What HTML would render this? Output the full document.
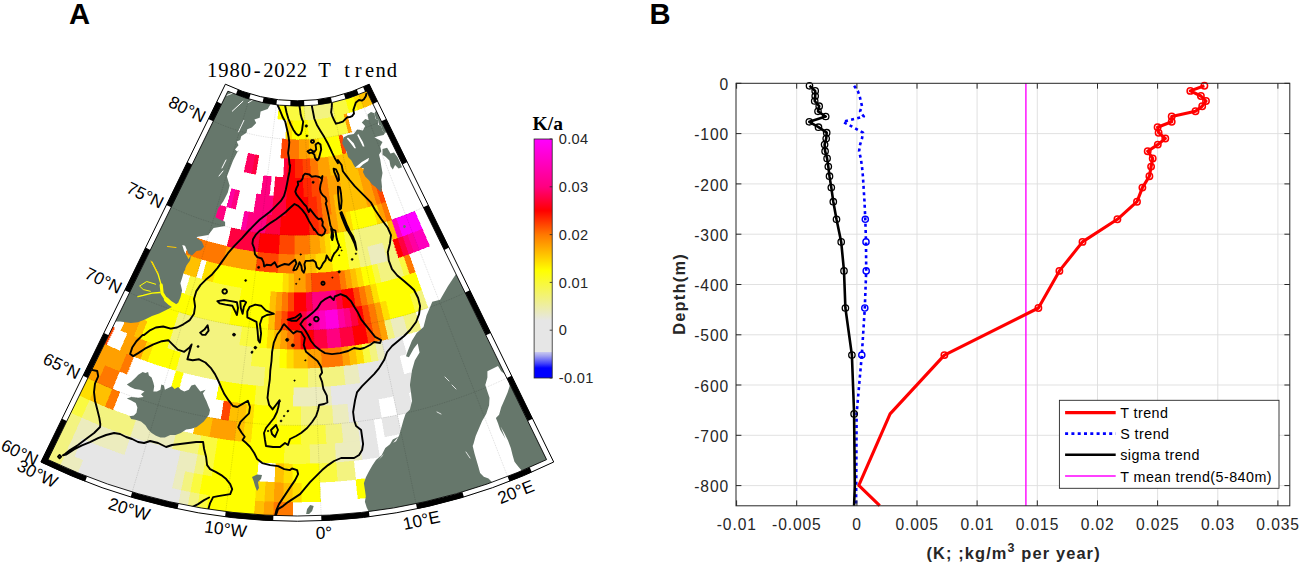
<!DOCTYPE html>
<html><head><meta charset="utf-8"><title>Figure</title>
<style>html,body{margin:0;padding:0;background:#fff}svg{display:block}text{font-family:"Liberation Sans",sans-serif}</style></head><body>
<svg width="1299" height="565" viewBox="0 0 1299 565">
<rect width="1299" height="565" fill="#fff"/>
<defs><clipPath id="mapclip"><path d="M225.4,84.2 A163.9,163.9 0 0 0 369.2,84.2 L553.7,462 A584.4,584.4 0 0 1 40.9,462 Z"/></clipPath></defs>
<g clip-path="url(#mapclip)">
<g shape-rendering="crispEdges"><polygon points="49.3,444.7 57.7,448.7 66.2,452.6 58.3,470.2 49.6,466.2 40.9,462" fill="#f3f380" stroke="#f3f380" stroke-width="0.4"/>
<polygon points="66.2,452.6 74.8,456.4 83.4,460 76.1,477.8 67.2,474.1 58.3,470.2" fill="#ececbe" stroke="#ececbe" stroke-width="0.4"/>
<polygon points="83.4,460 92.1,463.4 100.8,466.7 109.6,469.9 118.4,473 127.3,475.8 136.2,478.6 145.2,481.2 154.2,483.6 163.2,485.9 172.3,488 181.4,490 177.5,508.9 168,506.8 158.7,504.6 149.3,502.2 140,499.7 130.7,497 121.5,494.2 112.3,491.2 103.2,488.1 94.1,484.8 85.1,481.4 76.1,477.8" fill="#e6e6e6" stroke="#e6e6e6" stroke-width="0.4"/>
<polygon points="181.4,490 190.6,491.9 186.9,510.8 177.5,508.9" fill="#ececbe" stroke="#ececbe" stroke-width="0.4"/>
<polygon points="190.6,491.9 199.8,493.5 196.4,512.5 186.9,510.8" fill="#f3f380" stroke="#f3f380" stroke-width="0.4"/>
<polygon points="199.8,493.5 209,495.1 206,514.1 196.4,512.5" fill="#fafa40" stroke="#fafa40" stroke-width="0.4"/>
<polygon points="209,495.1 218.2,496.5 227.5,497.7 236.7,498.8 246,499.7 255.3,500.5 253.9,519.7 244.3,518.9 234.7,517.9 225.1,516.8 215.5,515.5 206,514.1" fill="#ffff00" stroke="#ffff00" stroke-width="0.4"/>
<polygon points="255.3,500.5 264.6,501.1 263.5,520.3 253.9,519.7" fill="#ffc000" stroke="#ffc000" stroke-width="0.4"/>
<polygon points="264.6,501.1 274,501.5 273.2,520.8 263.5,520.3" fill="#ffa000" stroke="#ffa000" stroke-width="0.4"/>
<polygon points="274,501.5 283.3,501.8 292.6,502 292.5,521.3 282.8,521.1 273.2,520.8" fill="#ff7800" stroke="#ff7800" stroke-width="0.4"/>
<polygon points="57.8,427.4 65.9,431.3 74.1,435.1 66.2,452.6 57.7,448.7 49.3,444.7" fill="#f3f380" stroke="#f3f380" stroke-width="0.4"/>
<polygon points="74.1,435.1 82.3,438.7 74.8,456.4 66.2,452.6" fill="#ececbe" stroke="#ececbe" stroke-width="0.4"/>
<polygon points="82.3,438.7 90.7,442.2 99,445.5 107.5,448.7 115.9,451.8 124.5,454.7 133.1,457.5 141.7,460.1 150.3,462.6 159,465 167.8,467.2 176.6,469.3 172.3,488 163.2,485.9 154.2,483.6 145.2,481.2 136.2,478.6 127.3,475.8 118.4,473 109.6,469.9 100.8,466.7 92.1,463.4 83.4,460 74.8,456.4" fill="#e6e6e6" stroke="#e6e6e6" stroke-width="0.4"/>
<polygon points="176.6,469.3 185.4,471.2 181.4,490 172.3,488" fill="#ececbe" stroke="#ececbe" stroke-width="0.4"/>
<polygon points="185.4,471.2 194.2,473 190.6,491.9 181.4,490" fill="#f3f380" stroke="#f3f380" stroke-width="0.4"/>
<polygon points="194.2,473 203.1,474.6 199.8,493.5 190.6,491.9" fill="#fafa40" stroke="#fafa40" stroke-width="0.4"/>
<polygon points="203.1,474.6 212,476.1 220.9,477.4 229.8,478.6 238.8,479.6 247.8,480.5 256.8,481.3 255.3,500.5 246,499.7 236.7,498.8 227.5,497.7 218.2,496.5 209,495.1 199.8,493.5" fill="#ffff00" stroke="#ffff00" stroke-width="0.4"/>
<polygon points="256.8,481.3 265.8,481.9 264.6,501.1 255.3,500.5" fill="#ffde00" stroke="#ffde00" stroke-width="0.4"/>
<polygon points="265.8,481.9 274.8,482.3 274,501.5 264.6,501.1" fill="#ffc000" stroke="#ffc000" stroke-width="0.4"/>
<polygon points="274.8,482.3 283.8,482.6 283.3,501.8 274,501.5" fill="#ffa000" stroke="#ffa000" stroke-width="0.4"/>
<polygon points="283.8,482.6 292.8,482.8 292.6,502 283.3,501.8" fill="#ffc000" stroke="#ffc000" stroke-width="0.4"/>
<polygon points="292.8,482.8 301.8,482.8 302,502 292.6,502" fill="#ffde00" stroke="#ffde00" stroke-width="0.4"/>
<polygon points="301.8,482.8 310.8,482.6 319.8,482.3 320.6,501.5 311.3,501.8 302,502" fill="#ffff00" stroke="#ffff00" stroke-width="0.4"/>
<polygon points="355.8,479.6 364.8,478.6 367.1,497.7 357.9,498.8" fill="#ffff00" stroke="#ffff00" stroke-width="0.4"/>
<polygon points="66.2,410.2 74,413.9 81.9,417.6 74.1,435.1 65.9,431.3 57.8,427.4" fill="#f3f380" stroke="#f3f380" stroke-width="0.4"/>
<polygon points="81.9,417.6 89.9,421 97.9,424.4 106,427.6 114.1,430.7 122.3,433.7 130.6,436.5 124.5,454.7 115.9,451.8 107.5,448.7 99,445.5 90.7,442.2 82.3,438.7 74.1,435.1" fill="#ececbe" stroke="#ececbe" stroke-width="0.4"/>
<polygon points="130.6,436.5 138.8,439.2 147.1,441.7 155.5,444.2 163.9,446.4 172.3,448.6 180.8,450.6 176.6,469.3 167.8,467.2 159,465 150.3,462.6 141.7,460.1 133.1,457.5 124.5,454.7" fill="#e6e6e6" stroke="#e6e6e6" stroke-width="0.4"/>
<polygon points="180.8,450.6 189.3,452.4 197.8,454.1 194.2,473 185.4,471.2 176.6,469.3" fill="#ececbe" stroke="#ececbe" stroke-width="0.4"/>
<polygon points="197.8,454.1 206.4,455.7 203.1,474.6 194.2,473" fill="#f3f380" stroke="#f3f380" stroke-width="0.4"/>
<polygon points="206.4,455.7 215,457.1 212,476.1 203.1,474.6" fill="#fafa40" stroke="#fafa40" stroke-width="0.4"/>
<polygon points="215,457.1 223.6,458.4 232.2,459.6 240.9,460.6 249.5,461.4 258.2,462.1 256.8,481.3 247.8,480.5 238.8,479.6 229.8,478.6 220.9,477.4 212,476.1" fill="#ffff00" stroke="#ffff00" stroke-width="0.4"/>
<polygon points="275.6,463.2 284.3,463.4 283.8,482.6 274.8,482.3" fill="#ffc000" stroke="#ffc000" stroke-width="0.4"/>
<polygon points="284.3,463.4 292.9,463.6 292.8,482.8 283.8,482.6" fill="#ffde00" stroke="#ffde00" stroke-width="0.4"/>
<polygon points="292.9,463.6 301.7,463.6 310.3,463.4 319,463.2 319.8,482.3 310.8,482.6 301.8,482.8 292.8,482.8" fill="#ffff00" stroke="#ffff00" stroke-width="0.4"/>
<polygon points="319,463.2 327.7,462.7 336.4,462.1 337.8,481.3 328.8,481.9 319.8,482.3" fill="#fafa40" stroke="#fafa40" stroke-width="0.4"/>
<polygon points="336.4,462.1 345.1,461.4 353.7,460.6 355.8,479.6 346.8,480.5 337.8,481.3" fill="#f3f380" stroke="#f3f380" stroke-width="0.4"/>
<polygon points="74.6,393 82.1,396.6 89.8,400.1 81.9,417.6 74,413.9 66.2,410.2" fill="#fafa40" stroke="#fafa40" stroke-width="0.4"/>
<polygon points="89.8,400.1 97.4,403.4 105.2,406.7 113,409.8 120.8,412.8 128.7,415.6 136.6,418.3 130.6,436.5 122.3,433.7 114.1,430.7 106,427.6 97.9,424.4 89.9,421 81.9,417.6" fill="#f3f380" stroke="#f3f380" stroke-width="0.4"/>
<polygon points="136.6,418.3 144.6,420.9 152.6,423.4 160.7,425.7 168.8,427.9 176.9,430 172.3,448.6 163.9,446.4 155.5,444.2 147.1,441.7 138.8,439.2 130.6,436.5" fill="#ececbe" stroke="#ececbe" stroke-width="0.4"/>
<polygon points="176.9,430 185,431.9 193.2,433.7 201.5,435.3 197.8,454.1 189.3,452.4 180.8,450.6 172.3,448.6" fill="#f3f380" stroke="#f3f380" stroke-width="0.4"/>
<polygon points="201.5,435.3 209.7,436.8 218,438.2 215,457.1 206.4,455.7 197.8,454.1" fill="#fafa40" stroke="#fafa40" stroke-width="0.4"/>
<polygon points="218,438.2 226.3,439.5 234.6,440.6 242.9,441.5 251.2,442.4 259.6,443.1 268,443.6 276.3,444 284.7,444.3 284.3,463.4 275.6,463.2 266.9,462.7 258.2,462.1 249.5,461.4 240.9,460.6 232.2,459.6 223.6,458.4 215,457.1" fill="#ffff00" stroke="#ffff00" stroke-width="0.4"/>
<polygon points="284.7,444.3 293.1,444.4 301.5,444.4 309.9,444.3 310.3,463.4 301.7,463.6 292.9,463.6 284.3,463.4" fill="#fafa40" stroke="#fafa40" stroke-width="0.4"/>
<polygon points="309.9,444.3 318.3,444 326.6,443.6 335,443.1 336.4,462.1 327.7,462.7 319,463.2 310.3,463.4" fill="#f3f380" stroke="#f3f380" stroke-width="0.4"/>
<polygon points="335,443.1 343.4,442.4 351.7,441.5 360,440.6 362.4,459.6 353.7,460.6 345.1,461.4 336.4,462.1" fill="#ececbe" stroke="#ececbe" stroke-width="0.4"/>
<polygon points="360,440.6 368.3,439.5 376.6,438.2 379.6,457.1 371,458.4 362.4,459.6" fill="#e6e6e6" stroke="#e6e6e6" stroke-width="0.4"/>
<polygon points="83,375.8 90.2,379.3 97.6,382.6 89.8,400.1 82.1,396.6 74.6,393" fill="#ffde00" stroke="#ffde00" stroke-width="0.4"/>
<polygon points="97.6,382.6 105,385.9 112.4,389 105.2,406.7 97.4,403.4 89.8,400.1" fill="#ffc000" stroke="#ffc000" stroke-width="0.4"/>
<polygon points="112.4,389 119.9,392 113,409.8 105.2,406.7" fill="#ff7800" stroke="#ff7800" stroke-width="0.4"/>
<polygon points="197.2,415 205.1,416.6 213,418 209.7,436.8 201.5,435.3 193.2,433.7" fill="#ffc000" stroke="#ffc000" stroke-width="0.4"/>
<polygon points="213,418 221,419.3 228.9,420.5 236.9,421.6 234.6,440.6 226.3,439.5 218,438.2 209.7,436.8" fill="#ffa000" stroke="#ffa000" stroke-width="0.4"/>
<polygon points="236.9,421.6 245,422.5 242.9,441.5 234.6,440.6" fill="#ffc000" stroke="#ffc000" stroke-width="0.4"/>
<polygon points="245,422.5 253,423.3 251.2,442.4 242.9,441.5" fill="#ffde00" stroke="#ffde00" stroke-width="0.4"/>
<polygon points="253,423.3 261,424 269.1,424.5 277.1,424.9 285.2,425.2 293.3,425.3 301.3,425.3 301.5,444.4 293.1,444.4 284.7,444.3 276.3,444 268,443.6 259.6,443.1 251.2,442.4" fill="#ffff00" stroke="#ffff00" stroke-width="0.4"/>
<polygon points="301.3,425.3 309.4,425.2 317.5,424.9 325.5,424.5 326.6,443.6 318.3,444 309.9,444.3 301.5,444.4" fill="#fafa40" stroke="#fafa40" stroke-width="0.4"/>
<polygon points="325.5,424.5 333.6,424 341.6,423.3 343.4,442.4 335,443.1 326.6,443.6" fill="#f3f380" stroke="#f3f380" stroke-width="0.4"/>
<polygon points="341.6,423.3 349.6,422.5 357.7,421.6 360,440.6 351.7,441.5 343.4,442.4" fill="#ececbe" stroke="#ececbe" stroke-width="0.4"/>
<polygon points="357.7,421.6 365.7,420.5 373.6,419.3 376.6,438.2 368.3,439.5 360,440.6" fill="#e6e6e6" stroke="#e6e6e6" stroke-width="0.4"/>
<polygon points="381.6,418 389.5,416.6 397.4,415 401.4,433.7 393.1,435.3 384.9,436.8" fill="#e6e6e6" stroke="#e6e6e6" stroke-width="0.4"/>
<polygon points="91.3,358.7 98.3,362 105.4,365.2 97.6,382.6 90.2,379.3 83,375.8" fill="#ffa000" stroke="#ffa000" stroke-width="0.4"/>
<polygon points="105.4,365.2 112.5,368.3 119.6,371.3 112.4,389 105,385.9 97.6,382.6" fill="#ff7800" stroke="#ff7800" stroke-width="0.4"/>
<polygon points="223.9,400.5 231.6,401.6 228.9,420.5 221,419.3" fill="#ff4600" stroke="#ff4600" stroke-width="0.4"/>
<polygon points="231.6,401.6 239.3,402.7 247,403.6 245,422.5 236.9,421.6 228.9,420.5" fill="#ffc000" stroke="#ffc000" stroke-width="0.4"/>
<polygon points="247,403.6 254.7,404.3 253,423.3 245,422.5" fill="#ffde00" stroke="#ffde00" stroke-width="0.4"/>
<polygon points="254.7,404.3 262.4,405 270.2,405.5 277.9,405.9 277.1,424.9 269.1,424.5 261,424 253,423.3" fill="#ffff00" stroke="#ffff00" stroke-width="0.4"/>
<polygon points="277.9,405.9 285.7,406.1 293.4,406.3 301.2,406.3 301.3,425.3 293.3,425.3 285.2,425.2 277.1,424.9" fill="#fafa40" stroke="#fafa40" stroke-width="0.4"/>
<polygon points="301.2,406.3 308.9,406.1 316.7,405.9 324.4,405.5 332.2,405 333.6,424 325.5,424.5 317.5,424.9 309.4,425.2 301.3,425.3" fill="#f3f380" stroke="#f3f380" stroke-width="0.4"/>
<polygon points="332.2,405 339.9,404.3 347.6,403.6 349.6,422.5 341.6,423.3 333.6,424" fill="#ececbe" stroke="#ececbe" stroke-width="0.4"/>
<polygon points="347.6,403.6 355.3,402.7 363,401.6 370.7,400.5 378.3,399.2 381.6,418 373.6,419.3 365.7,420.5 357.7,421.6 349.6,422.5" fill="#e6e6e6" stroke="#e6e6e6" stroke-width="0.4"/>
<polygon points="393.5,396.3 401.1,394.6 408.7,392.9 413.2,411.4 405.3,413.2 397.4,415" fill="#e6e6e6" stroke="#e6e6e6" stroke-width="0.4"/>
<polygon points="99.7,341.5 106.4,344.8 113.2,347.9 120,350.8 126.8,353.7 119.6,371.3 112.5,368.3 105.4,365.2 98.3,362 91.3,358.7" fill="#ffa000" stroke="#ffa000" stroke-width="0.4"/>
<polygon points="126.8,353.7 133.7,356.5 126.8,374.2 119.6,371.3" fill="#ff7800" stroke="#ff7800" stroke-width="0.4"/>
<polygon points="176.1,370.6 183.3,372.5 178.4,391 170.9,388.9" fill="#ffff00" stroke="#ffff00" stroke-width="0.4"/>
<polygon points="219.6,380.5 226.9,381.7 234.3,382.8 241.6,383.8 249,384.6 256.4,385.4 254.7,404.3 247,403.6 239.3,402.7 231.6,401.6 223.9,400.5 216.3,399.2" fill="#ffff00" stroke="#ffff00" stroke-width="0.4"/>
<polygon points="256.4,385.4 263.9,386 271.3,386.5 278.7,386.8 286.1,387.1 293.6,387.2 293.4,406.3 285.7,406.1 277.9,405.9 270.2,405.5 262.4,405 254.7,404.3" fill="#fafa40" stroke="#fafa40" stroke-width="0.4"/>
<polygon points="293.6,387.2 301,387.2 308.5,387.1 315.9,386.8 323.3,386.5 330.7,386 332.2,405 324.4,405.5 316.7,405.9 308.9,406.1 301.2,406.3 293.4,406.3" fill="#ececbe" stroke="#ececbe" stroke-width="0.4"/>
<polygon points="330.7,386 338.2,385.4 345.6,384.6 353,383.8 360.3,382.8 367.7,381.7 375,380.5 382.3,379.1 389.6,377.7 396.9,376.1 404.1,374.4 411.3,372.5 416.2,391 408.7,392.9 401.1,394.6 393.5,396.3 385.9,397.8 378.3,399.2 370.7,400.5 363,401.6 355.3,402.7 347.6,403.6 339.9,404.3 332.2,405" fill="#e6e6e6" stroke="#e6e6e6" stroke-width="0.4"/>
<polygon points="108,324.4 114.5,327.5 106.4,344.8 99.7,341.5" fill="#ff4600" stroke="#ff4600" stroke-width="0.4"/>
<polygon points="127.5,333.3 134,336.1 140.7,338.7 147.3,341.3 140.7,359.1 133.7,356.5 126.8,353.7 120,350.8" fill="#ffa000" stroke="#ffa000" stroke-width="0.4"/>
<polygon points="147.3,341.3 154,343.7 147.7,361.6 140.7,359.1" fill="#ffde00" stroke="#ffde00" stroke-width="0.4"/>
<polygon points="154,343.7 160.8,346 167.5,348.2 174.3,350.3 181.2,352.3 176.1,370.6 168.9,368.5 161.8,366.4 154.7,364.1 147.7,361.6" fill="#ffff00" stroke="#ffff00" stroke-width="0.4"/>
<polygon points="181.2,352.3 188.1,354.1 195,355.9 201.9,357.5 208.9,359 215.9,360.4 222.9,361.7 229.9,362.9 236.9,363.9 244,364.9 251.1,365.7 258.2,366.4 265.3,367 263.9,386 256.4,385.4 249,384.6 241.6,383.8 234.3,382.8 226.9,381.7 219.6,380.5 212.3,379.1 205,377.7 197.7,376.1 190.5,374.4 183.3,372.5 176.1,370.6" fill="#f3f380" stroke="#f3f380" stroke-width="0.4"/>
<polygon points="265.3,367 272.4,367.5 279.5,367.8 286.6,368.1 293.7,368.2 300.9,368.2 308,368.1 308.5,387.1 301,387.2 293.6,387.2 286.1,387.1 278.7,386.8 271.3,386.5 263.9,386" fill="#fafa40" stroke="#fafa40" stroke-width="0.4"/>
<polygon points="308,368.1 315.1,367.8 322.2,367.5 329.3,367 336.4,366.4 343.5,365.7 345.6,384.6 338.2,385.4 330.7,386 323.3,386.5 315.9,386.8 308.5,387.1" fill="#f3f380" stroke="#f3f380" stroke-width="0.4"/>
<polygon points="343.5,365.7 350.6,364.9 357.7,363.9 360.3,382.8 353,383.8 345.6,384.6" fill="#ececbe" stroke="#ececbe" stroke-width="0.4"/>
<polygon points="357.7,363.9 364.7,362.9 371.7,361.7 378.7,360.4 385.7,359 392.7,357.5 399.6,355.9 404.1,374.4 396.9,376.1 389.6,377.7 382.3,379.1 375,380.5 367.7,381.7 360.3,382.8" fill="#e6e6e6" stroke="#e6e6e6" stroke-width="0.4"/>
<polygon points="128.7,313.1 135,315.9 141.2,318.5 134,336.1 127.5,333.3 120.9,330.5" fill="#ffa000" stroke="#ffa000" stroke-width="0.4"/>
<polygon points="141.2,318.5 147.6,321 140.7,338.7 134,336.1" fill="#ffc000" stroke="#ffc000" stroke-width="0.4"/>
<polygon points="147.6,321 153.9,323.4 160.3,325.8 166.8,328 173.3,330.1 167.5,348.2 160.8,346 154,343.7 147.3,341.3 140.7,338.7" fill="#ffff00" stroke="#ffff00" stroke-width="0.4"/>
<polygon points="173.3,330.1 179.8,332.1 186.3,334 192.9,335.7 199.5,337.4 206.1,339 212.8,340.4 219.4,341.8 226.1,343 232.9,344.1 239.6,345.1 246.4,346 253.1,346.8 251.1,365.7 244,364.9 236.9,363.9 229.9,362.9 222.9,361.7 215.9,360.4 208.9,359 201.9,357.5 195,355.9 188.1,354.1 181.2,352.3 174.3,350.3 167.5,348.2" fill="#f3f380" stroke="#f3f380" stroke-width="0.4"/>
<polygon points="253.1,346.8 259.9,347.5 266.7,348 273.5,348.5 280.3,348.8 279.5,367.8 272.4,367.5 265.3,367 258.2,366.4 251.1,365.7" fill="#fafa40" stroke="#fafa40" stroke-width="0.4"/>
<polygon points="280.3,348.8 287.1,349.1 286.6,368.1 279.5,367.8" fill="#ffff00" stroke="#ffff00" stroke-width="0.4"/>
<polygon points="287.1,349.1 293.9,349.2 293.7,368.2 286.6,368.1" fill="#ffde00" stroke="#ffde00" stroke-width="0.4"/>
<polygon points="293.9,349.2 300.7,349.2 307.5,349.1 308,368.1 300.9,368.2 293.7,368.2" fill="#ffc000" stroke="#ffc000" stroke-width="0.4"/>
<polygon points="307.5,349.1 314.3,348.8 321.1,348.5 322.2,367.5 315.1,367.8 308,368.1" fill="#ffa000" stroke="#ffa000" stroke-width="0.4"/>
<polygon points="321.1,348.5 327.9,348 334.7,347.5 341.5,346.8 343.5,365.7 336.4,366.4 329.3,367 322.2,367.5" fill="#ff7800" stroke="#ff7800" stroke-width="0.4"/>
<polygon points="341.5,346.8 348.2,346 350.6,364.9 343.5,365.7" fill="#ffa000" stroke="#ffa000" stroke-width="0.4"/>
<polygon points="348.2,346 355,345.1 357.7,363.9 350.6,364.9" fill="#ffc000" stroke="#ffc000" stroke-width="0.4"/>
<polygon points="355,345.1 361.7,344.1 364.7,362.9 357.7,363.9" fill="#ffde00" stroke="#ffde00" stroke-width="0.4"/>
<polygon points="361.7,344.1 368.5,343 371.7,361.7 364.7,362.9" fill="#fafa40" stroke="#fafa40" stroke-width="0.4"/>
<polygon points="368.5,343 375.2,341.8 378.7,360.4 371.7,361.7" fill="#f3f380" stroke="#f3f380" stroke-width="0.4"/>
<polygon points="375.2,341.8 381.8,340.4 385.7,359 378.7,360.4" fill="#ececbe" stroke="#ececbe" stroke-width="0.4"/>
<polygon points="381.8,340.4 388.5,339 395.1,337.4 401.7,335.7 406.5,354.1 399.6,355.9 392.7,357.5 385.7,359" fill="#e6e6e6" stroke="#e6e6e6" stroke-width="0.4"/>
<polygon points="136.5,295.8 142.4,298.4 148.4,300.9 154.5,303.3 160.5,305.6 166.6,307.8 172.8,309.9 179,312 173.3,330.1 166.8,328 160.3,325.8 153.9,323.4 147.6,321 141.2,318.5 135,315.9 128.7,313.1" fill="#ffff00" stroke="#ffff00" stroke-width="0.4"/>
<polygon points="179,312 185.2,313.9 191.4,315.7 197.7,317.4 204,318.9 210.3,320.4 216.7,321.8 223,323.1 229.4,324.3 235.8,325.3 242.3,326.3 239.6,345.1 232.9,344.1 226.1,343 219.4,341.8 212.8,340.4 206.1,339 199.5,337.4 192.9,335.7 186.3,334 179.8,332.1 173.3,330.1" fill="#f3f380" stroke="#f3f380" stroke-width="0.4"/>
<polygon points="242.3,326.3 248.7,327.2 255.2,327.9 261.6,328.6 259.9,347.5 253.1,346.8 246.4,346 239.6,345.1" fill="#fafa40" stroke="#fafa40" stroke-width="0.4"/>
<polygon points="261.6,328.6 268.1,329.1 266.7,348 259.9,347.5" fill="#ffff00" stroke="#ffff00" stroke-width="0.4"/>
<polygon points="268.1,329.1 274.6,329.5 273.5,348.5 266.7,348" fill="#ffde00" stroke="#ffde00" stroke-width="0.4"/>
<polygon points="274.6,329.5 281.1,329.8 280.3,348.8 273.5,348.5" fill="#ffc000" stroke="#ffc000" stroke-width="0.4"/>
<polygon points="281.1,329.8 287.6,330.1 287.1,349.1 280.3,348.8" fill="#ffa000" stroke="#ffa000" stroke-width="0.4"/>
<polygon points="287.6,330.1 294.1,330.2 293.9,349.2 287.1,349.1" fill="#ff7800" stroke="#ff7800" stroke-width="0.4"/>
<polygon points="294.1,330.2 300.5,330.2 300.7,349.2 293.9,349.2" fill="#ff4600" stroke="#ff4600" stroke-width="0.4"/>
<polygon points="300.5,330.2 307,330.1 313.5,329.8 314.3,348.8 307.5,349.1 300.7,349.2" fill="#ff0000" stroke="#ff0000" stroke-width="0.4"/>
<polygon points="313.5,329.8 320,329.5 326.5,329.1 327.9,348 321.1,348.5 314.3,348.8" fill="#ff0040" stroke="#ff0040" stroke-width="0.4"/>
<polygon points="326.5,329.1 333,328.6 339.4,327.9 341.5,346.8 334.7,347.5 327.9,348" fill="#ff0080" stroke="#ff0080" stroke-width="0.4"/>
<polygon points="339.4,327.9 345.9,327.2 352.3,326.3 355,345.1 348.2,346 341.5,346.8" fill="#ff0040" stroke="#ff0040" stroke-width="0.4"/>
<polygon points="352.3,326.3 358.8,325.3 365.2,324.3 368.5,343 361.7,344.1 355,345.1" fill="#ff0000" stroke="#ff0000" stroke-width="0.4"/>
<polygon points="365.2,324.3 371.6,323.1 375.2,341.8 368.5,343" fill="#ff4600" stroke="#ff4600" stroke-width="0.4"/>
<polygon points="371.6,323.1 377.9,321.8 381.8,340.4 375.2,341.8" fill="#ff7800" stroke="#ff7800" stroke-width="0.4"/>
<polygon points="377.9,321.8 384.3,320.4 388.5,339 381.8,340.4" fill="#ffa000" stroke="#ffa000" stroke-width="0.4"/>
<polygon points="384.3,320.4 390.6,318.9 395.1,337.4 388.5,339" fill="#f3f380" stroke="#f3f380" stroke-width="0.4"/>
<polygon points="390.6,318.9 396.9,317.4 403.2,315.7 408.3,334 401.7,335.7 395.1,337.4" fill="#ececbe" stroke="#ececbe" stroke-width="0.4"/>
<polygon points="403.2,315.7 409.4,313.9 415.6,312 421.3,330.1 414.8,332.1 408.3,334" fill="#f3f380" stroke="#f3f380" stroke-width="0.4"/>
<polygon points="133.1,273.2 138.6,275.9 144.3,278.5 149.9,280.9 155.6,283.3 161.4,285.6 167.1,287.8 173,289.9 178.8,291.9 184.7,293.8 190.6,295.7 196.5,297.4 191.4,315.7 185.2,313.9 179,312 172.8,309.9 166.6,307.8 160.5,305.6 154.5,303.3 148.4,300.9 142.4,298.4 136.5,295.8 130.6,293.1 124.7,290.3" fill="#ffff00" stroke="#ffff00" stroke-width="0.4"/>
<polygon points="196.5,297.4 202.5,299 208.5,300.5 214.5,301.9 220.6,303.2 226.6,304.5 232.7,305.6 229.4,324.3 223,323.1 216.7,321.8 210.3,320.4 204,318.9 197.7,317.4 191.4,315.7" fill="#fafa40" stroke="#fafa40" stroke-width="0.4"/>
<polygon points="232.7,305.6 238.8,306.6 244.9,307.5 251,308.3 257.2,309 263.3,309.6 269.5,310.2 268.1,329.1 261.6,328.6 255.2,327.9 248.7,327.2 242.3,326.3 235.8,325.3 229.4,324.3" fill="#ffff00" stroke="#ffff00" stroke-width="0.4"/>
<polygon points="269.5,310.2 275.7,310.6 274.6,329.5 268.1,329.1" fill="#ffc000" stroke="#ffc000" stroke-width="0.4"/>
<polygon points="275.7,310.6 281.8,310.9 281.1,329.8 274.6,329.5" fill="#ff7800" stroke="#ff7800" stroke-width="0.4"/>
<polygon points="281.8,310.9 288,311.1 287.6,330.1 281.1,329.8" fill="#ff4600" stroke="#ff4600" stroke-width="0.4"/>
<polygon points="288,311.1 294.2,311.2 300.4,311.2 300.5,330.2 294.1,330.2 287.6,330.1" fill="#ff0000" stroke="#ff0000" stroke-width="0.4"/>
<polygon points="300.4,311.2 306.6,311.1 307,330.1 300.5,330.2" fill="#ff0040" stroke="#ff0040" stroke-width="0.4"/>
<polygon points="306.6,311.1 312.8,310.9 313.5,329.8 307,330.1" fill="#ff0080" stroke="#ff0080" stroke-width="0.4"/>
<polygon points="312.8,310.9 318.9,310.6 320,329.5 313.5,329.8" fill="#ff00a0" stroke="#ff00a0" stroke-width="0.4"/>
<polygon points="318.9,310.6 325.1,310.2 326.5,329.1 320,329.5" fill="#ff00be" stroke="#ff00be" stroke-width="0.4"/>
<polygon points="325.1,310.2 331.3,309.6 337.4,309 339.4,327.9 333,328.6 326.5,329.1" fill="#ff00de" stroke="#ff00de" stroke-width="0.4"/>
<polygon points="337.4,309 343.6,308.3 345.9,327.2 339.4,327.9" fill="#ff00a0" stroke="#ff00a0" stroke-width="0.4"/>
<polygon points="343.6,308.3 349.7,307.5 352.3,326.3 345.9,327.2" fill="#ff0080" stroke="#ff0080" stroke-width="0.4"/>
<polygon points="349.7,307.5 355.8,306.6 358.8,325.3 352.3,326.3" fill="#ff0040" stroke="#ff0040" stroke-width="0.4"/>
<polygon points="355.8,306.6 361.9,305.6 365.2,324.3 358.8,325.3" fill="#ff0000" stroke="#ff0000" stroke-width="0.4"/>
<polygon points="361.9,305.6 368,304.5 371.6,323.1 365.2,324.3" fill="#ff4600" stroke="#ff4600" stroke-width="0.4"/>
<polygon points="368,304.5 374,303.2 377.9,321.8 371.6,323.1" fill="#ff7800" stroke="#ff7800" stroke-width="0.4"/>
<polygon points="374,303.2 380.1,301.9 384.3,320.4 377.9,321.8" fill="#ffa000" stroke="#ffa000" stroke-width="0.4"/>
<polygon points="380.1,301.9 386.1,300.5 390.6,318.9 384.3,320.4" fill="#ffde00" stroke="#ffde00" stroke-width="0.4"/>
<polygon points="386.1,300.5 392.1,299 398.1,297.4 404,295.7 409.9,293.8 415.6,312 409.4,313.9 403.2,315.7 396.9,317.4 390.6,318.9" fill="#ffff00" stroke="#ffff00" stroke-width="0.4"/>
<polygon points="409.9,293.8 415.8,291.9 421.8,309.9 415.6,312" fill="#fafa40" stroke="#fafa40" stroke-width="0.4"/>
<polygon points="415.8,291.9 421.6,289.9 428,307.8 421.8,309.9" fill="#f3f380" stroke="#f3f380" stroke-width="0.4"/>
<polygon points="190.4,275.7 196,277.4 201.7,279.1 207.3,280.6 213,282 218.7,283.4 224.5,284.6 230.2,285.8 236,286.9 241.8,287.8 238.8,306.6 232.7,305.6 226.6,304.5 220.6,303.2 214.5,301.9 208.5,300.5 202.5,299 196.5,297.4 190.6,295.7 184.7,293.8" fill="#fafa40" stroke="#fafa40" stroke-width="0.4"/>
<polygon points="241.8,287.8 247.6,288.7 253.4,289.5 259.2,290.1 265.1,290.7 270.9,291.2 269.5,310.2 263.3,309.6 257.2,309 251,308.3 244.9,307.5 238.8,306.6" fill="#ffff00" stroke="#ffff00" stroke-width="0.4"/>
<polygon points="270.9,291.2 276.8,291.6 275.7,310.6 269.5,310.2" fill="#ffc000" stroke="#ffc000" stroke-width="0.4"/>
<polygon points="276.8,291.6 282.6,291.9 281.8,310.9 275.7,310.6" fill="#ffa000" stroke="#ffa000" stroke-width="0.4"/>
<polygon points="282.6,291.9 288.5,292.1 288,311.1 281.8,310.9" fill="#ff7800" stroke="#ff7800" stroke-width="0.4"/>
<polygon points="288.5,292.1 294.4,292.2 294.2,311.2 288,311.1" fill="#ff4600" stroke="#ff4600" stroke-width="0.4"/>
<polygon points="294.4,292.2 300.2,292.2 306.1,292.1 306.6,311.1 300.4,311.2 294.2,311.2" fill="#ff0000" stroke="#ff0000" stroke-width="0.4"/>
<polygon points="306.1,292.1 312,291.9 312.8,310.9 306.6,311.1" fill="#ff0040" stroke="#ff0040" stroke-width="0.4"/>
<polygon points="312,291.9 317.8,291.6 323.7,291.2 329.5,290.7 335.4,290.1 337.4,309 331.3,309.6 325.1,310.2 318.9,310.6 312.8,310.9" fill="#ff0080" stroke="#ff0080" stroke-width="0.4"/>
<polygon points="335.4,290.1 341.2,289.5 343.6,308.3 337.4,309" fill="#ff0040" stroke="#ff0040" stroke-width="0.4"/>
<polygon points="341.2,289.5 347,288.7 352.8,287.8 355.8,306.6 349.7,307.5 343.6,308.3" fill="#ff0000" stroke="#ff0000" stroke-width="0.4"/>
<polygon points="352.8,287.8 358.6,286.9 361.9,305.6 355.8,306.6" fill="#ff4600" stroke="#ff4600" stroke-width="0.4"/>
<polygon points="358.6,286.9 364.4,285.8 368,304.5 361.9,305.6" fill="#ff7800" stroke="#ff7800" stroke-width="0.4"/>
<polygon points="364.4,285.8 370.1,284.6 374,303.2 368,304.5" fill="#ffa000" stroke="#ffa000" stroke-width="0.4"/>
<polygon points="370.1,284.6 375.9,283.4 380.1,301.9 374,303.2" fill="#ffde00" stroke="#ffde00" stroke-width="0.4"/>
<polygon points="375.9,283.4 381.6,282 387.3,280.6 392.9,279.1 398.6,277.4 404.2,275.7 409.8,273.9 415.3,272 421.6,289.9 415.8,291.9 409.9,293.8 404,295.7 398.1,297.4 392.1,299 386.1,300.5 380.1,301.9" fill="#ffff00" stroke="#ffff00" stroke-width="0.4"/>
<polygon points="185.6,254.1 190.8,255.9 196.1,257.6 201.4,259.2 196,277.4 190.4,275.7 184.8,273.9 179.3,272" fill="#ffc000" stroke="#ffc000" stroke-width="0.4"/>
<polygon points="206.8,260.8 212.1,262.2 217.5,263.6 213,282 207.3,280.6 201.7,279.1" fill="#ffde00" stroke="#ffde00" stroke-width="0.4"/>
<polygon points="217.5,263.6 222.9,264.9 228.3,266.1 233.8,267.1 239.3,268.1 244.7,269.1 250.2,269.9 255.7,270.6 261.3,271.3 266.8,271.8 272.3,272.3 277.9,272.6 283.4,272.9 282.6,291.9 276.8,291.6 270.9,291.2 265.1,290.7 259.2,290.1 253.4,289.5 247.6,288.7 241.8,287.8 236,286.9 230.2,285.8 224.5,284.6 218.7,283.4 213,282" fill="#ffff00" stroke="#ffff00" stroke-width="0.4"/>
<polygon points="283.4,272.9 289,273.1 288.5,292.1 282.6,291.9" fill="#ffde00" stroke="#ffde00" stroke-width="0.4"/>
<polygon points="289,273.1 294.5,273.2 294.4,292.2 288.5,292.1" fill="#ffc000" stroke="#ffc000" stroke-width="0.4"/>
<polygon points="294.5,273.2 300.1,273.2 305.6,273.1 306.1,292.1 300.2,292.2 294.4,292.2" fill="#ffa000" stroke="#ffa000" stroke-width="0.4"/>
<polygon points="305.6,273.1 311.2,272.9 312,291.9 306.1,292.1" fill="#ff7800" stroke="#ff7800" stroke-width="0.4"/>
<polygon points="311.2,272.9 316.7,272.6 322.3,272.3 327.8,271.8 333.3,271.3 338.9,270.6 341.2,289.5 335.4,290.1 329.5,290.7 323.7,291.2 317.8,291.6 312,291.9" fill="#ff4600" stroke="#ff4600" stroke-width="0.4"/>
<polygon points="338.9,270.6 344.4,269.9 347,288.7 341.2,289.5" fill="#ff7800" stroke="#ff7800" stroke-width="0.4"/>
<polygon points="344.4,269.9 349.9,269.1 352.8,287.8 347,288.7" fill="#ffa000" stroke="#ffa000" stroke-width="0.4"/>
<polygon points="349.9,269.1 355.3,268.1 358.6,286.9 352.8,287.8" fill="#ffc000" stroke="#ffc000" stroke-width="0.4"/>
<polygon points="355.3,268.1 360.8,267.1 364.4,285.8 358.6,286.9" fill="#ffde00" stroke="#ffde00" stroke-width="0.4"/>
<polygon points="360.8,267.1 366.3,266.1 371.7,264.9 375.9,283.4 370.1,284.6 364.4,285.8" fill="#ffff00" stroke="#ffff00" stroke-width="0.4"/>
<polygon points="371.7,264.9 377.1,263.6 381.6,282 375.9,283.4" fill="#fafa40" stroke="#fafa40" stroke-width="0.4"/>
<polygon points="377.1,263.6 382.5,262.2 387.8,260.8 393.2,259.2 398.5,257.6 404.2,275.7 398.6,277.4 392.9,279.1 387.3,280.6 381.6,282" fill="#f3f380" stroke="#f3f380" stroke-width="0.4"/>
<polygon points="398.5,257.6 403.8,255.9 409.8,273.9 404.2,275.7" fill="#fafa40" stroke="#fafa40" stroke-width="0.4"/>
<polygon points="403.8,255.9 409,254.1 415.3,272 409.8,273.9" fill="#ff7800" stroke="#ff7800" stroke-width="0.4"/>
<polygon points="191.9,236.2 196.9,237.9 201.8,239.5 206.8,241 211.9,242.5 216.9,243.8 222,245.1 227.1,246.3 222.9,264.9 217.5,263.6 212.1,262.2 206.8,260.8 201.4,259.2 196.1,257.6 190.8,255.9 185.6,254.1" fill="#ff7800" stroke="#ff7800" stroke-width="0.4"/>
<polygon points="227.1,246.3 232.2,247.4 237.4,248.5 242.5,249.4 247.7,250.3 252.9,251.1 258.1,251.8 255.7,270.6 250.2,269.9 244.7,269.1 239.3,268.1 233.8,267.1 228.3,266.1 222.9,264.9" fill="#ffa000" stroke="#ffa000" stroke-width="0.4"/>
<polygon points="258.1,251.8 263.3,252.4 268.5,252.9 273.7,253.3 279,253.7 277.9,272.6 272.3,272.3 266.8,271.8 261.3,271.3 255.7,270.6" fill="#ff4600" stroke="#ff4600" stroke-width="0.4"/>
<polygon points="279,253.7 284.2,253.9 289.4,254.1 294.7,254.2 294.5,273.2 289,273.1 283.4,272.9 277.9,272.6" fill="#ff7800" stroke="#ff7800" stroke-width="0.4"/>
<polygon points="294.7,254.2 299.9,254.2 305.2,254.1 305.6,273.1 300.1,273.2 294.5,273.2" fill="#ffa000" stroke="#ffa000" stroke-width="0.4"/>
<polygon points="305.2,254.1 310.4,253.9 315.6,253.7 316.7,272.6 311.2,272.9 305.6,273.1" fill="#ffc000" stroke="#ffc000" stroke-width="0.4"/>
<polygon points="315.6,253.7 320.9,253.3 326.1,252.9 331.3,252.4 333.3,271.3 327.8,271.8 322.3,272.3 316.7,272.6" fill="#ffde00" stroke="#ffde00" stroke-width="0.4"/>
<polygon points="331.3,252.4 336.5,251.8 341.7,251.1 346.9,250.3 349.9,269.1 344.4,269.9 338.9,270.6 333.3,271.3" fill="#ffff00" stroke="#ffff00" stroke-width="0.4"/>
<polygon points="346.9,250.3 352.1,249.4 357.2,248.5 360.8,267.1 355.3,268.1 349.9,269.1" fill="#fafa40" stroke="#fafa40" stroke-width="0.4"/>
<polygon points="357.2,248.5 362.4,247.4 367.5,246.3 371.7,264.9 366.3,266.1 360.8,267.1" fill="#f3f380" stroke="#f3f380" stroke-width="0.4"/>
<polygon points="367.5,246.3 372.6,245.1 377.7,243.8 382.7,242.5 387.8,260.8 382.5,262.2 377.1,263.6 371.7,264.9" fill="#ececbe" stroke="#ececbe" stroke-width="0.4"/>
<polygon points="382.7,242.5 387.8,241 392.8,239.5 398.5,257.6 393.2,259.2 387.8,260.8" fill="#f3f380" stroke="#f3f380" stroke-width="0.4"/>
<polygon points="392.8,239.5 397.7,237.9 403.8,255.9 398.5,257.6" fill="#ff0000" stroke="#ff0000" stroke-width="0.4"/>
<polygon points="397.7,237.9 402.7,236.2 409,254.1 403.8,255.9" fill="#ff0040" stroke="#ff0040" stroke-width="0.4"/>
<polygon points="402.7,236.2 407.6,234.4 414.2,252.2 409,254.1" fill="#ff0080" stroke="#ff0080" stroke-width="0.4"/>
<polygon points="407.6,234.4 412.5,232.5 419.4,250.2 414.2,252.2" fill="#ff00a0" stroke="#ff00a0" stroke-width="0.4"/>
<polygon points="412.5,232.5 417.4,230.6 422.2,228.6 429.7,246 424.6,248.2 419.4,250.2" fill="#ff00be" stroke="#ff00be" stroke-width="0.4"/>
<polygon points="231.3,227.8 236.1,228.8 241,229.8 245.8,230.7 250.7,231.5 255.6,232.2 260.4,232.9 258.1,251.8 252.9,251.1 247.7,250.3 242.5,249.4 237.4,248.5 232.2,247.4 227.1,246.3" fill="#ff0040" stroke="#ff0040" stroke-width="0.4"/>
<polygon points="260.4,232.9 265.3,233.4 270.2,233.9 275.1,234.3 280.1,234.7 279,253.7 273.7,253.3 268.5,252.9 263.3,252.4 258.1,251.8" fill="#ff0000" stroke="#ff0000" stroke-width="0.4"/>
<polygon points="280.1,234.7 285,234.9 289.9,235.1 294.8,235.2 294.7,254.2 289.4,254.1 284.2,253.9 279,253.7" fill="#ff4600" stroke="#ff4600" stroke-width="0.4"/>
<polygon points="294.8,235.2 299.8,235.2 304.7,235.1 309.6,234.9 310.4,253.9 305.2,254.1 299.9,254.2 294.7,254.2" fill="#ff7800" stroke="#ff7800" stroke-width="0.4"/>
<polygon points="309.6,234.9 314.5,234.7 319.5,234.3 320.9,253.3 315.6,253.7 310.4,253.9" fill="#ffa000" stroke="#ffa000" stroke-width="0.4"/>
<polygon points="319.5,234.3 324.4,233.9 326.1,252.9 320.9,253.3" fill="#ffc000" stroke="#ffc000" stroke-width="0.4"/>
<polygon points="324.4,233.9 329.3,233.4 331.3,252.4 326.1,252.9" fill="#ffde00" stroke="#ffde00" stroke-width="0.4"/>
<polygon points="329.3,233.4 334.2,232.9 339,232.2 343.9,231.5 346.9,250.3 341.7,251.1 336.5,251.8 331.3,252.4" fill="#ffff00" stroke="#ffff00" stroke-width="0.4"/>
<polygon points="343.9,231.5 348.8,230.7 353.6,229.8 357.2,248.5 352.1,249.4 346.9,250.3" fill="#fafa40" stroke="#fafa40" stroke-width="0.4"/>
<polygon points="353.6,229.8 358.5,228.8 363.3,227.8 368.1,226.6 372.8,225.4 377.6,224.2 382.3,222.8 387,221.3 392.8,239.5 387.8,241 382.7,242.5 377.7,243.8 372.6,245.1 367.5,246.3 362.4,247.4 357.2,248.5" fill="#f3f380" stroke="#f3f380" stroke-width="0.4"/>
<polygon points="387,221.3 391.7,219.8 397.7,237.9 392.8,239.5" fill="#ffc000" stroke="#ffc000" stroke-width="0.4"/>
<polygon points="391.7,219.8 396.4,218.2 402.7,236.2 397.7,237.9" fill="#ff00be" stroke="#ff00be" stroke-width="0.4"/>
<polygon points="396.4,218.2 401,216.5 405.6,214.8 410.2,213 414.7,211.1 422.2,228.6 417.4,230.6 412.5,232.5 407.6,234.4 402.7,236.2" fill="#ff00ff" stroke="#ff00ff" stroke-width="0.4"/>
<polygon points="217.7,204.5 222.1,205.8 226.6,207 221.8,225.4 217,224.2 212.3,222.8" fill="#ff0080" stroke="#ff0080" stroke-width="0.4"/>
<polygon points="244.6,211.1 249.1,211.9 245.8,230.7 241,229.8" fill="#ff00a0" stroke="#ff00a0" stroke-width="0.4"/>
<polygon points="249.1,211.9 253.7,212.7 258.2,213.4 262.8,214 267.4,214.5 265.3,233.4 260.4,232.9 255.6,232.2 250.7,231.5 245.8,230.7" fill="#ff0080" stroke="#ff0080" stroke-width="0.4"/>
<polygon points="267.4,214.5 272,215 276.6,215.3 281.2,215.6 280.1,234.7 275.1,234.3 270.2,233.9 265.3,233.4" fill="#ff0040" stroke="#ff0040" stroke-width="0.4"/>
<polygon points="281.2,215.6 285.8,215.9 290.4,216 295,216.1 299.6,216.1 304.2,216 308.8,215.9 309.6,234.9 304.7,235.1 299.8,235.2 294.8,235.2 289.9,235.1 285,234.9 280.1,234.7" fill="#ff0000" stroke="#ff0000" stroke-width="0.4"/>
<polygon points="308.8,215.9 313.4,215.6 318,215.3 319.5,234.3 314.5,234.7 309.6,234.9" fill="#ff2800" stroke="#ff2800" stroke-width="0.4"/>
<polygon points="318,215.3 322.6,215 324.4,233.9 319.5,234.3" fill="#ff4600" stroke="#ff4600" stroke-width="0.4"/>
<polygon points="322.6,215 327.2,214.5 329.3,233.4 324.4,233.9" fill="#ff7800" stroke="#ff7800" stroke-width="0.4"/>
<polygon points="327.2,214.5 331.8,214 336.4,213.4 339,232.2 334.2,232.9 329.3,233.4" fill="#ffa000" stroke="#ffa000" stroke-width="0.4"/>
<polygon points="336.4,213.4 340.9,212.7 345.5,211.9 348.8,230.7 343.9,231.5 339,232.2" fill="#ffc000" stroke="#ffc000" stroke-width="0.4"/>
<polygon points="345.5,211.9 350,211.1 353.6,229.8 348.8,230.7" fill="#ffde00" stroke="#ffde00" stroke-width="0.4"/>
<polygon points="350,211.1 354.5,210.2 359.1,209.2 363.5,208.1 368,207 372.5,205.8 377.6,224.2 372.8,225.4 368.1,226.6 363.3,227.8 358.5,228.8 353.6,229.8" fill="#ffff00" stroke="#ffff00" stroke-width="0.4"/>
<polygon points="372.5,205.8 376.9,204.5 382.3,222.8 377.6,224.2" fill="#ffde00" stroke="#ffde00" stroke-width="0.4"/>
<polygon points="376.9,204.5 381.3,203.2 387,221.3 382.3,222.8" fill="#ffa000" stroke="#ffa000" stroke-width="0.4"/>
<polygon points="381.3,203.2 385.7,201.7 391.7,219.8 387,221.3" fill="#ff7800" stroke="#ff7800" stroke-width="0.4"/>
<polygon points="231.4,188.5 235.6,189.6 231.1,208.1 226.6,207" fill="#ff00a0" stroke="#ff00a0" stroke-width="0.4"/>
<polygon points="235.6,189.6 239.8,190.6 235.5,209.2 231.1,208.1" fill="#ff0080" stroke="#ff0080" stroke-width="0.4"/>
<polygon points="256.6,193.8 260.9,194.5 265.2,195 269.4,195.5 273.7,196 272,215 267.4,214.5 262.8,214 258.2,213.4 253.7,212.7" fill="#ff0080" stroke="#ff0080" stroke-width="0.4"/>
<polygon points="273.7,196 278,196.3 282.3,196.6 286.6,196.8 285.8,215.9 281.2,215.6 276.6,215.3 272,215" fill="#ff0040" stroke="#ff0040" stroke-width="0.4"/>
<polygon points="286.6,196.8 290.9,196.9 295.2,197 299.4,197 303.7,196.9 308,196.8 308.8,215.9 304.2,216 299.6,216.1 295,216.1 290.4,216 285.8,215.9" fill="#ff0000" stroke="#ff0000" stroke-width="0.4"/>
<polygon points="308,196.8 312.3,196.6 316.6,196.3 318,215.3 313.4,215.6 308.8,215.9" fill="#ff2800" stroke="#ff2800" stroke-width="0.4"/>
<polygon points="316.6,196.3 320.9,196 322.6,215 318,215.3" fill="#ff4600" stroke="#ff4600" stroke-width="0.4"/>
<polygon points="320.9,196 325.2,195.5 329.4,195 331.8,214 327.2,214.5 322.6,215" fill="#ff7800" stroke="#ff7800" stroke-width="0.4"/>
<polygon points="329.4,195 333.7,194.5 336.4,213.4 331.8,214" fill="#ffa000" stroke="#ffa000" stroke-width="0.4"/>
<polygon points="333.7,194.5 338,193.8 342.2,193.1 346.4,192.3 350.6,191.5 354.8,190.6 359,189.6 363.2,188.5 368,207 363.5,208.1 359.1,209.2 354.5,210.2 350,211.1 345.5,211.9 340.9,212.7 336.4,213.4" fill="#ffc000" stroke="#ffc000" stroke-width="0.4"/>
<polygon points="363.2,188.5 367.3,187.4 371.5,186.2 376.9,204.5 372.5,205.8 368,207" fill="#ffa000" stroke="#ffa000" stroke-width="0.4"/>
<polygon points="371.5,186.2 375.6,185 381.3,203.2 376.9,204.5" fill="#ff7800" stroke="#ff7800" stroke-width="0.4"/>
<polygon points="375.6,185 379.7,183.6 385.7,201.7 381.3,203.2" fill="#ff4600" stroke="#ff4600" stroke-width="0.4"/>
<polygon points="263.6,175.5 267.5,176.1 271.5,176.5 269.4,195.5 265.2,195 260.9,194.5" fill="#ff0080" stroke="#ff0080" stroke-width="0.4"/>
<polygon points="275.4,176.9 279.4,177.2 283.4,177.5 287.3,177.7 286.6,196.8 282.3,196.6 278,196.3 273.7,196" fill="#ff0040" stroke="#ff0040" stroke-width="0.4"/>
<polygon points="287.3,177.7 291.3,177.8 295.3,177.9 299.3,177.9 303.3,177.8 303.7,196.9 299.4,197 295.2,197 290.9,196.9 286.6,196.8" fill="#ff0000" stroke="#ff0000" stroke-width="0.4"/>
<polygon points="303.3,177.8 307.3,177.7 311.2,177.5 312.3,196.6 308,196.8 303.7,196.9" fill="#ff2800" stroke="#ff2800" stroke-width="0.4"/>
<polygon points="311.2,177.5 315.2,177.2 319.2,176.9 320.9,196 316.6,196.3 312.3,196.6" fill="#ff4600" stroke="#ff4600" stroke-width="0.4"/>
<polygon points="319.2,176.9 323.1,176.5 327.1,176.1 329.4,195 325.2,195.5 320.9,196" fill="#ff7800" stroke="#ff7800" stroke-width="0.4"/>
<polygon points="327.1,176.1 331,175.5 335,174.9 338.9,174.3 342.2,193.1 338,193.8 333.7,194.5 329.4,195" fill="#ffa000" stroke="#ffa000" stroke-width="0.4"/>
<polygon points="338.9,174.3 342.8,173.6 346.7,172.8 350.6,171.9 354.5,171 358.3,170 363.2,188.5 359,189.6 354.8,190.6 350.6,191.5 346.4,192.3 342.2,193.1" fill="#ffc000" stroke="#ffc000" stroke-width="0.4"/>
<polygon points="358.3,170 362.2,169 366,167.9 371.5,186.2 367.3,187.4 363.2,188.5" fill="#ffa000" stroke="#ffa000" stroke-width="0.4"/>
<polygon points="366,167.9 369.8,166.7 375.6,185 371.5,186.2" fill="#ff7800" stroke="#ff7800" stroke-width="0.4"/>
<polygon points="369.8,166.7 373.6,165.5 379.7,183.6 375.6,185" fill="#ff4600" stroke="#ff4600" stroke-width="0.4"/>
<polygon points="248.2,153.2 251.8,154 255.4,154.7 251.8,173.6 247.9,172.8 244,171.9" fill="#ff0060" stroke="#ff0060" stroke-width="0.4"/>
<polygon points="255.4,154.7 259,155.4 255.7,174.3 251.8,173.6" fill="#ff0040" stroke="#ff0040" stroke-width="0.4"/>
<polygon points="284.5,158.4 288.1,158.5 287.3,177.7 283.4,177.5" fill="#ff0040" stroke="#ff0040" stroke-width="0.4"/>
<polygon points="288.1,158.5 291.8,158.7 295.5,158.7 295.3,177.9 291.3,177.8 287.3,177.7" fill="#ff0000" stroke="#ff0000" stroke-width="0.4"/>
<polygon points="295.5,158.7 299.1,158.7 302.8,158.7 303.3,177.8 299.3,177.9 295.3,177.9" fill="#ff2800" stroke="#ff2800" stroke-width="0.4"/>
<polygon points="302.8,158.7 306.5,158.5 310.1,158.4 311.2,177.5 307.3,177.7 303.3,177.8" fill="#ff4600" stroke="#ff4600" stroke-width="0.4"/>
<polygon points="310.1,158.4 313.8,158.1 317.4,157.8 319.2,176.9 315.2,177.2 311.2,177.5" fill="#ff7800" stroke="#ff7800" stroke-width="0.4"/>
<polygon points="317.4,157.8 321.1,157.4 324.7,157 328.3,156.5 331,175.5 327.1,176.1 323.1,176.5 319.2,176.9" fill="#ffa000" stroke="#ffa000" stroke-width="0.4"/>
<polygon points="328.3,156.5 332,156 335.6,155.4 339.2,154.7 342.8,154 346.4,153.2 349.9,152.4 353.5,151.5 358.3,170 354.5,171 350.6,171.9 346.7,172.8 342.8,173.6 338.9,174.3 335,174.9 331,175.5" fill="#ffc000" stroke="#ffc000" stroke-width="0.4"/>
<polygon points="353.5,151.5 357,150.5 362.2,169 358.3,170" fill="#ffa000" stroke="#ffa000" stroke-width="0.4"/>
<polygon points="282.3,138.9 285.6,139.2 288.9,139.3 288.1,158.5 284.5,158.4 280.8,158.1" fill="#ff4600" stroke="#ff4600" stroke-width="0.4"/>
<polygon points="288.9,139.3 292.3,139.4 295.6,139.5 299,139.5 299.1,158.7 295.5,158.7 291.8,158.7 288.1,158.5" fill="#ff7800" stroke="#ff7800" stroke-width="0.4"/>
<polygon points="299,139.5 302.3,139.4 305.7,139.3 309,139.2 310.1,158.4 306.5,158.5 302.8,158.7 299.1,158.7" fill="#ffa000" stroke="#ffa000" stroke-width="0.4"/>
<polygon points="309,139.2 312.3,138.9 315.7,138.7 317.4,157.8 313.8,158.1 310.1,158.4" fill="#ffc000" stroke="#ffc000" stroke-width="0.4"/>
<polygon points="315.7,138.7 319,138.3 321.1,157.4 317.4,157.8" fill="#ffde00" stroke="#ffde00" stroke-width="0.4"/>
<polygon points="319,138.3 322.3,137.9 325.7,137.5 329,137 332.3,136.4 335.6,135.8 338.8,135.2 342.8,154 339.2,154.7 335.6,155.4 332,156 328.3,156.5 324.7,157 321.1,157.4" fill="#ffff00" stroke="#ffff00" stroke-width="0.4"/>
<polygon points="338.8,135.2 342.1,134.5 346.4,153.2 342.8,154" fill="#ff4600" stroke="#ff4600" stroke-width="0.4"/>
<polygon points="286.7,119.9 289.7,120 292.8,120.1 292.3,139.4 288.9,139.3 285.6,139.2" fill="#ffde00" stroke="#ffde00" stroke-width="0.4"/>
<polygon points="292.8,120.1 295.8,120.2 298.8,120.2 301.8,120.1 304.9,120 307.9,119.9 309,139.2 305.7,139.3 302.3,139.4 299,139.5 295.6,139.5 292.3,139.4" fill="#ffff00" stroke="#ffff00" stroke-width="0.4"/>
<polygon points="307.9,119.9 310.9,119.7 313.9,119.4 316.9,119.1 319.9,118.8 323,118.4 325.9,117.9 328.9,117.4 331.9,116.9 334.9,116.3 337.8,115.6 340.8,114.9 343.7,114.2 348.6,132.9 345.4,133.7 342.1,134.5 338.8,135.2 335.6,135.8 332.3,136.4 329,137 325.7,137.5 322.3,137.9 319,138.3 315.7,138.7 312.3,138.9 309,139.2" fill="#fafa40" stroke="#fafa40" stroke-width="0.4"/>
<polygon points="343.7,114.2 346.6,113.4 351.8,132 348.6,132.9" fill="#ffa000" stroke="#ffa000" stroke-width="0.4"/>
<polygon points="279.7,99.8 282.4,100.1 285.1,100.3 287.8,100.5 286.7,119.9 283.7,119.7 280.7,119.4 277.7,119.1" fill="#ffff00" stroke="#ffff00" stroke-width="0.4"/>
<polygon points="287.8,100.5 290.5,100.6 293.2,100.7 295.9,100.8 298.7,100.8 301.4,100.7 304.1,100.6 304.9,120 301.8,120.1 298.8,120.2 295.8,120.2 292.8,120.1 289.7,120 286.7,119.9" fill="#fafa40" stroke="#fafa40" stroke-width="0.4"/>
<polygon points="304.1,100.6 306.8,100.5 309.5,100.3 312.2,100.1 314.9,99.8 317.6,99.5 320.2,99.2 322.9,98.8 325.6,98.3 328.2,97.8 330.9,97.3 334.9,116.3 331.9,116.9 328.9,117.4 325.9,117.9 323,118.4 319.9,118.8 316.9,119.1 313.9,119.4 310.9,119.7 307.9,119.9 304.9,120" fill="#f3f380" stroke="#f3f380" stroke-width="0.4"/>
<polygon points="330.9,97.3 333.5,96.7 336.2,96.1 338.8,95.4 341.4,94.7 344,94 349.5,112.6 346.6,113.4 343.7,114.2 340.8,114.9 337.8,115.6 334.9,116.3" fill="#fafa40" stroke="#fafa40" stroke-width="0.4"/>
<polygon points="344,94 346.6,93.2 349.2,92.3 351.7,91.5 358.2,109.8 355.3,110.7 352.4,111.7 349.5,112.6" fill="#ffff00" stroke="#ffff00" stroke-width="0.4"/>
<polygon points="351.7,91.5 354.3,90.5 356.8,89.6 363.9,107.7 361,108.7 358.2,109.8" fill="#ffde00" stroke="#ffde00" stroke-width="0.4"/>
<polygon points="356.8,89.6 359.3,88.6 361.8,87.5 364.3,86.4 366.8,85.3 369.2,84.2 377.7,101.6 375,102.9 372.2,104.2 369.5,105.4 366.7,106.5 363.9,107.7" fill="#ffc000" stroke="#ffc000" stroke-width="0.4"/></g>
<g fill="#66776b" stroke="none"><polygon points="0,321.4 0,0 275,0 275,100 270.4,104.5 267.7,108.9 260.6,111.5 259.7,117.7 254.4,119.5 256.2,123.1 251.8,127.5 247.3,129.2 246.5,132.8 241.2,136.3 240.3,139.9 236.7,141.6 238.5,145.2 235,149.6 238,152.3 238.4,150 233.1,160.6 229.6,169.5 226.9,176.5 229.6,185.4 227.8,192.5 223.4,201.3 218.1,208.4 215.4,217.3 220.7,219.9 225.1,221.7 225.1,226.1 213.6,227.9 208.3,235 197.7,236.7 196.5,237.8 201.8,241.4 204.1,246.7 200.9,250.2 196.5,251.1 192,255.5 188.5,253.8 185,245.8 182.3,244.9 184.1,251.1 187.6,257.3 189.4,261.7 185.8,265.3 185,270.6 180.5,272.3 191,255 190.1,260.3 186.5,265.6 183.9,271.8 182.1,278 180.4,283.3 182.1,290.4 180.4,297.5 178.2,302.8 173.3,306.3 166.2,309.9 159.1,313.4 152,316.1 145,319.6 137.9,322.3 130.8,323.1 125.5,322.3 120.2,321.4 116.3,321.4"/>
<polygon points="126.8,384.5 131.2,381.8 135.7,377.4 138.3,374.7 142.7,372.1 145.4,373 148.1,372.1 148.9,375.6 151.6,377.4 153.4,382.7 154.2,386.2 153.4,391.5 156.9,391.5 160.4,389.8 161.3,384.5 164,385.4 164.9,389.8 168.4,388 171.9,386.2 174.6,388.9 178.1,387.1 180.8,389.8 184.3,391.5 188.8,389.8 191.4,385.4 195,384.5 197.6,388 200.3,391.5 205.6,389.8 202.9,393.3 204.7,397.7 206.5,401.3 208.2,405.7 210,410.1 209.1,414.6 206.5,418.1 203.8,421.6 200.3,424.3 196.7,426.9 191.4,428.7 186.1,429.6 180.8,433.1 175.5,434.9 170.2,434.9 164.9,437.6 160.4,437.6 156,435.8 151.6,433.1 148.1,429.6 145.4,425.2 141,421.6 136.5,419.9 131.2,419 129.5,416.3 133.9,415.4 136.5,412.8 137.4,407.5 135.7,403.1 131.2,400.4 126.8,398.6 131.2,396.9 138.3,397.7 143.6,396.9 141,394.2 144.5,391.5 140.1,389.8 134.8,388.9 130.4,387.1"/>
<polygon points="343.4,137.4 348,135.1 353.7,134 357.2,129.4 362.9,130.5 365.2,125.9 361.8,122.5 365.2,119 368.7,120.2 367.5,114.4 371,112.1 374.4,113.3 375.6,119 379,120.2 377.9,124.8 381.3,125.9 382.5,130.5 385.2,132.8 383.6,135.1 377.9,136.3 374.4,137.4 379,139.7 382.5,142 380.2,146.6 381.3,151.2 379,154.7 380.2,159.3 381.3,166.2 382.5,173.1 381.3,180 382,186.9 381.3,192.6 379,190.3 375.6,186.9 372.1,184.6 368.7,180 365.2,176.5 362.9,171.9 364.1,168.5 359.5,167.3 356,168.5 353.7,165 351.4,160.4 348,157 346.8,152.4 344.5,147.8 342.2,143.2"/>
<polygon points="382.5,148.9 387.1,147.8 390.5,153.5 394,152.4 397.4,157 399.7,161.6 402,167.3 398.6,168.5 395.1,165 392.8,169.6 390.5,166.2 389.4,160.4 385.9,157 382.5,154.7"/>
<polygon points="374.4,113.3 376.7,109.8 381.3,113.3 385.2,122.5 388.2,131.7 385.2,132.8 382.5,130.5 381.3,125.9 379,124.8 379,120.2 376,119"/>
<polygon points="475,268 458.5,270 455.7,274.5 447.9,286.2 440.1,299.8 432.3,301.7 426.5,315.4 423.5,327 416.7,332.9 411.9,340.7 408,350.4 406,356.2 408.9,357.2 413.8,348.5 417.7,343.6 419.6,352.4 414.8,360.6 412,370.2 411,377.6 409.9,385 411,392.5 412,401 409.9,409.4 405.6,413.7 403.5,420.1 401.4,427.5 399.3,434.9 396.1,441.3 391.8,443.4 387.6,446.6 385.5,450.8 382.3,456.2 378,460.4 398.3,436.7 392.8,439.5 390,444.2 385.3,447.9 381.6,455.3 376,460 372.3,465.5 368.6,472 365.8,477.6 363.9,483.2 364.9,489.7 365.8,496.2 364.9,501.8 366.7,507.4 368.6,511.4 368,545 620,545 620,268"/>
<polygon points="252,477.1 257,474.5 262,475.1 261,479.1 258,482.1 259,488.1 257,491.1 255,486.1 253.6,481.1"/>
<polygon points="307.1,509.1 310.1,505.1 313.7,506.1 312.1,511.1 309.1,514.1 306.1,514.1"/>
<polygon points="403.2,225.4 405,225 406,226.5 404.8,228.2 403.3,227.5"/></g>
<g fill="#fff" stroke="none"><polygon points="354.9,167.8 361.8,162 369.1,157.7 368.2,161.1 362.9,164.6 359.5,167.8"/>
<polygon points="348,137.4 353.7,143.2 356,148.2 354.4,148.2 350.7,143.2 346.8,138.6"/>
<polygon points="358.3,134 362.9,142 364.5,146.6 362.9,146.6 359.5,139.7 357.2,135.1"/>
<polygon points="498,365.9 487.4,371.2 487.4,377.6 485.3,385 487.4,391.4 489.5,397.8 489.1,405.2 486.3,413.7 482.1,421.1 478.9,428.6 475.7,436 473.6,443.4 474.6,450.8 476.3,458.3 475.5,438.6 472.7,446 474.5,453.5 476.4,460 478.3,466.5 480.1,473 483.8,476.7 488.5,478.6 493.1,483.2 508,481.3 522.9,472 518.2,466.5 514.5,461.8 512.6,455.3 510.8,447.9 508,440.4 504.3,433 500.6,426.5 513.9,460.4 511.8,451.9 508.6,444.5 504.4,437 500.1,429.6 498,423.2 495.9,417.9 499.1,414.8 501.2,407.3 504.4,399.9 507.6,392.5 509.7,386.1 508.6,379.7 506.5,375.5 501.2,371.2"/></g>
<g stroke="#fff" stroke-width="1" fill="none" stroke-linecap="round"><!-- streaks --><path d="M232.3,111.2L242.9,101.3M248.2,102.7L252.7,100M227,95.3L234.6,92.4M238.5,131.9L243.8,120.4M222,168L226,160M219,176L223,171"/><path d="M466,452L470,458M452,385L456,389M437,412L441,414M445,377L449,381" stroke-width="0.8"/></g>
<g fill="none" stroke="#ffff00" stroke-linecap="round" stroke-linejoin="round">
<polyline stroke-width="4.6" points="175.5,306.5 170,303 166.2,299.5"/><polyline stroke-width="3.2" points="166.2,299.5 162.1,293.1 161.2,285.1"/>
<polyline stroke-width="1.3" points="161.2,285.1 158.2,274.5 152,262.1"/>
<polyline stroke-width="1.3" points="160,292.5 152,293.1 143.2,295.4 137.9,296.6"/>
<polyline stroke-width="1" points="155.6,284.2 146.7,281.5 139.6,286 143.2,289.5 150.3,291.3"/>
<polyline stroke-width="1" stroke="#ffc800" points="167.5,246.5 176,247.5"/>
<polyline stroke-width="1" stroke="#ffc800" points="151,261 158,273"/>
</g>
<g stroke="#000" stroke-opacity="0.2" stroke-width="0.7" stroke-dasharray="0.9 0.9" fill="none"><line x1="225.4" y1="84.2" x2="40.9" y2="462"/>
<line x1="250.6" y1="94" x2="130.7" y2="497"/>
<line x1="277" y1="99.5" x2="225.1" y2="516.8"/>
<line x1="304.1" y1="100.6" x2="321.4" y2="520.8"/>
<line x1="330.9" y1="97.3" x2="417.1" y2="508.9"/>
<line x1="356.8" y1="89.6" x2="509.5" y2="481.4"/>
<path d="M40.9,462 A584.4,584.4 0 0 0 553.7,462" fill="none"/>
<path d="M83,375.8 A488.4,488.4 0 0 0 511.6,375.8" fill="none"/>
<path d="M124.7,290.3 A393.3,393.3 0 0 0 469.9,290.3" fill="none"/>
<path d="M166.4,204.9 A298.3,298.3 0 0 0 428.2,204.9" fill="none"/>
<path d="M208.4,118.9 A202.6,202.6 0 0 0 386.2,118.9" fill="none"/></g>
<g fill="none" stroke="#000" stroke-width="1.9" stroke-linejoin="round" stroke-linecap="round"><polyline points="277.2,102.4 277.8,105.5 280.3,111.1 282.8,117.3 285.2,121.6 286.5,127.2 287.7,132.2 288.6,137.1 289.3,142.1 288.9,147 288.1,153.2 288.9,158.2 289.6,165 290.2,165 289.6,171.2 288.3,177.3 287.1,183.5 285.8,189.7 284,195.9 280.9,200.9 277.2,204.6 273.5,208.3 269.7,212 264.8,215.8 259.8,219.5 254.9,224.4 251.2,228.2 249.3,230 241.8,238.4 234.4,245.8 228,253.2 222.7,260.6 217.4,268.1 212.1,274.4 205.7,279.8 200.4,285.1 196.2,291.4 194,298.9 195.1,306.3 194,313.7 189.8,320.1 183.4,324.3 177,327.5 170.7,328.6 163.2,326.5 155.8,327.5 149.4,330.7 144.1,335 142.8,334.9 136.4,341.2 132.2,347.6 130.1,354 133.2,356.1 138.6,352.9 144.9,348.7 153.4,344.4 161.9,341.2 168.3,340.2 172.5,344.4 177.8,349.7 184.2,351.8 189.5,347.6 191.6,344.4 189.5,351.8 187.4,359.3 192.7,360.3 199.1,359.3 205.4,362.5 210.7,367.8 215,374.1 218.2,380.5 221.4,387.9 224.5,394.3 228.8,400.7 233,406 237.3,407 242.6,403.9 247.9,400.7 250,407 249,413.4 244.7,417.7 240.5,421.9 238.3,427.2 241.5,432.5 244.7,436.8 242.6,440 246.2,443 250.2,447 254.2,453 257.2,459.1 262.2,463.1 270.2,465.1 278.2,466.1 284.2,469.1 290,470.1 292,468.5 297.1,470.1 298.1,474.1 295.1,480.1 291,486.1 287,492.1 283,498.1 279,504.1 276.4,510.1 275,516.1"/>
<polyline points="275.6,516.1 278,509.1 283,506.1 288,502.1 294.1,498.1 300.1,494.1 305.1,488.1 310.1,482.1 316.1,476.1 322.1,470.1 328.1,465.1 334.1,461 341.1,458 348.1,458 354.1,458 359.1,455 362.1,450 363.1,444 362.1,437 361.1,430 356.1,426 354.1,420 353.1,412 354.1,406 355.1,400 357.1,392.1 362.1,386.1 368.1,380.1 374.1,374.1 379.1,368.1 384.1,360.1 387.1,352 392.1,346 398.1,341 404.1,336 410.1,330 416.1,322 419.1,314 420.1,306 418.1,298 414.1,290 410.1,286.2 403.7,280.8 397.3,275.5 392,269.2 388.8,260.7 387.8,252.2 389.9,243.7 391,235.2 387.8,227.8 381.4,219.3 375,209.7 370.8,202.3 363.4,194.9 354.9,186.4 349.6,180 346.6,176.1 342.9,171.2 341.6,165 337.9,160 337.9,163.2 334.8,158.2 332.3,153.2 329.8,147.7 327.4,142.7 324.3,137.1 320.5,130.9 316.8,124.7 314.3,118.5 313.1,112.3 311.9,106.2 311.6,102.4"/>
<polyline points="284.9,102.4 285.2,106.2 286.5,112.3 288.3,118.5 290.8,124.7 293.3,129.7 295.8,133.4 298.2,135.3 300.7,134 302,130.3 302.6,126 303.2,121.6 302,119.2 300.7,114.8 300.1,109.9 299.5,106.2 299.2,102.4"/>
<polyline points="331.9,103.7 331.7,107.4 331.1,112.3 332.3,116.1 334.2,120.4 336,123.7 339.1,122.9 342.9,121.6 345.3,119.2 347.2,117.3 349.7,117.1 352.1,116.1 354,113.6 353.4,109.9 354.6,106.2 355.9,102.4 359,100 362.1,100.6 363.9,99.3 365.8,96.2 366.4,93.8"/>
<polyline points="89.7,369.9 91.8,369.9 97.2,371 98.2,376.3 95,383.7 94,392.2 95,400.7 97.2,409.2 99.3,417.7 100.3,424 100.1,427 94.1,433 86,439 78,445 70,450 65,454 63,455.4 66,454.6 74,449.4 82,445.4 90,442.2 98.1,438.2 106.1,435 114.1,433 120.1,434 126.1,437 132.1,439 138.1,442 144.1,443 150.1,441 158.1,443 166.1,447 172.1,445 180.1,444 188.1,443 196.1,442 203.1,442 204.1,449 206.1,457 207.1,465.1 210.1,469.1 216.1,472.1 221.2,475.1 226.2,479.1 230.2,484.1 232.2,489.1 230.2,494.1 224.2,495.1 218.2,496.1 213.1,497.1 210.1,503.1 208.1,510.1"/>
<polyline points="190.1,510.1 192.1,507.1 198.1,504.1 204.1,500.1 209.1,497.5"/>
<polygon points="294.5,204 298.2,205.8 302,209.6 305.7,214.5 308.8,220.7 311.9,225.7 314.3,230 314.3,228.7 318.1,234.3 321.8,235.5 324.3,233.7 325.5,230 323,226.2 322.4,225.7 322.8,222 321.2,218.5 318.7,219.2 316.2,217 314.1,214.3 311.6,211.1 310.1,209.1 308.9,212 307.7,209.6 306.4,206.5 303.9,204 301.5,200.9 299,197.8 296.5,194.7 295.3,191.6 296.5,187.9 298.2,184.8 297.7,181.8 300.7,181.1 302.6,178.6 303.2,175.6 305.1,173.6 309.4,174.5 311.6,176.7 315.6,176.1 319.3,177 321.2,178.2 322.4,176.1 321.8,180.4 320.5,184.8 319.9,189.1 320.8,192.5 322.8,195.3 325.5,197.4 326.7,201.1 325.7,203.4 326.7,207.1 327.5,210.8 328.6,215.8 329.5,220.7 330.5,225.7 332.3,229.4 335.4,230.6 336,234.3 336.7,238.6 337.9,242.3 339.1,245.4 337.9,249.2 336,251.6 334.2,253.5 332.3,257.2 331.1,260.9 329.2,259.7 326.7,255.4 325.5,260.3 323,263.4 321.2,267.1 319.3,269 316.8,267.1 315.6,262.2 313.1,260.3 309.4,260.9 305.7,260.9 304.4,264 305.1,268.4 303.8,272.7 302,270.2 301.3,265.9 299.5,262.2 298.2,265.9 296.4,269.6 293.3,270.2 294.5,267.1 296.4,263.4 295.1,259.7 292.7,261.6 288.9,264.7 284.6,264 280.9,265.3 277.2,267.1 274.7,262.2 271,265.3 266.6,264.7 264.2,266.5 263.5,262.2 261.7,258.5 257.3,257.2 254.9,254.1 254.3,248.5 252.4,243.6 253,239.3 256.1,234.3 259.8,230.6 262.3,229.4 266,226.3 271,222.6 275.9,219.5 280.9,215.8 285.8,212 289.6,208.3"/>
<polygon points="284.1,324.2 288.7,328.8 293.3,333.4 296.8,331.1 301.4,332.2 304.9,338 303.7,344.9 306,351.8 311.8,356.4 317.5,361 321,366.8 322.1,372.6 319.8,376 322.1,381.8 323.3,388.7 326.8,395.6 327.4,402.5 324.1,404 319.1,405 318.1,410 316.1,416 312.1,422 307.1,428 301.1,433 296.1,436 290,439 288,445 285,443 280,447 273,447 266,446 265,440 264,433 266,428 270,423 274,418 277,412 278.4,407.1 279.5,400.2 276.1,404.8 272.6,409.4 269.1,404.8 267.5,397.9 268.5,388.7 269.8,379.5 270.3,370.3 271.5,361 272.1,351.8 273.8,342.6 277.2,334.5 280.7,329.9 283,325.3"/>
<polygon points="300.3,324.2 303.7,319.6 307.2,317.3 312.9,312.6 317.5,308 321,302.3 325.6,298.8 330.2,296.5 333.7,300 334.8,296.5 340.6,294.2 346.3,296.5 350.9,301.1 354.4,306.9 357.9,312.6 361.3,319.6 365.9,325.3 370.5,331.1 375.1,336.8 381.1,340 380.1,343 374.1,342 370.1,345 364.1,348 360.1,349 354.1,348 348.1,351 340.1,353.1 332,354.1 325,353.1 320,350 315,346 311,341 308,335 305,330"/>
<polygon points="287.6,319.6 295.6,317.3 300.3,313.8 301.4,316.1 296.8,320.7 291,320.7"/>
<polygon points="61.2,456.6 59.6,458.3 58,456.6 59.6,455"/>
<polygon points="333.6,168.7 336,169.3 338.5,174.9 339.1,179.8 337.9,181.1 336,176.1 334.2,171.8"/>
<polygon points="337.9,186.6 339.8,187.3 341,193.5 341.6,200.9 341,208.3 339.8,209.6 338.9,202.1 338.1,193.5"/>
<polygon points="341.6,212 344.1,218.2 346.6,224.4 349,229.4 349,230 352.8,236.2 355.2,242.3 356.5,249.8 354.6,243.6 351.5,236.8 347.8,230.6 347.2,230 344.7,224.4 342.2,218.2 340.4,212.7"/>
<polygon points="331.1,228.7 331.9,232.4 331.3,237.4 332.3,240.1 333.2,236.2 332.6,231.2"/>
<polygon points="307.5,151.4 310.6,149.5 314.3,152 316.2,149.5 315.6,144.6 318.1,142.7 320.5,144.6 321.2,149.5 319.9,154.5 318.7,158.8 316.8,160.1 315,157.6 314.3,154.5 311.9,152.6 309.4,153.2"/>
<polygon points="314,141.5 313.7,142.3 313,142.9 312,142.9 311.3,142.3 311,141.5 311.3,140.6 312,140.1 313,140.1 313.7,140.6"/>
<polygon points="324.6,283.2 324.3,284.2 323.5,284.8 322.5,284.8 321.7,284.2 321.4,283.2 321.7,282.3 322.5,281.7 323.5,281.7 324.3,282.3"/>
<polygon points="227,291.5 226.5,292.8 225.4,293.6 224,293.6 222.8,292.8 222.4,291.5 222.8,290.1 224,289.3 225.4,289.3 226.5,290.1"/>
<polygon points="318.7,319.1 318.2,320.5 317.1,321.3 315.7,321.3 314.5,320.5 314.1,319.1 314.5,317.7 315.7,316.9 317.1,316.9 318.2,317.7"/>
<polygon points="217.3,301.1 224.2,300 231.1,301.1 236.9,302.3 238,308 236.9,315 234.6,310.3 232.3,305.7 225.4,304.6 219.6,303.4"/>
<polygon points="240.3,301.1 243.8,300.7 246.1,302.3 243.8,306.9 242.6,313.8 240.8,308"/>
<polygon points="249.6,306.9 255.3,304.6 261.1,305.7 265.7,310.3 273.8,313.8 266.8,315 262.2,317.3 259.9,324.2 261.1,333.4 259.9,342.6 258.3,340.3 257.6,331.1 256.5,321.9 251.9,319.6 247.3,317.3 247.3,311.5"/>
<polygon points="200.1,332.7 204.4,329.6 207.6,325.3 208.6,330.6 205.4,334.9 202.3,334.9"/>
<polygon points="271,430 276,425 278,430 275,437 272,434"/>
<polygon points="307.5,126 307.2,126.9 306.3,127.2 305.4,126.9 305.1,126 305.4,125.1 306.3,124.7 307.2,125.1" fill="#000" stroke-width="0.6"/>
<polygon points="307.9,135.9 307.6,136.6 306.9,136.9 306.2,136.6 305.9,135.9 306.2,135.2 306.9,134.9 307.6,135.2" fill="#000" stroke-width="0.6"/>
<polygon points="314.2,182.3 313.9,183.1 313.1,183.4 312.3,183.1 312,182.3 312.3,181.5 313.1,181.2 313.9,181.5" fill="#000" stroke-width="0.6"/>
<polygon points="318.3,160 318.1,160.6 317.4,160.9 316.8,160.6 316.6,160 316.8,159.4 317.4,159.1 318.1,159.4" fill="#000" stroke-width="0.6"/>
<polygon points="259.7,267.4 259.4,268.2 258.6,268.5 257.8,268.2 257.5,267.4 257.8,266.6 258.6,266.3 259.4,266.6" fill="#000" stroke-width="0.6"/>
<polygon points="246.6,280.5 246.3,281.2 245.6,281.5 244.9,281.2 244.6,280.5 244.9,279.8 245.6,279.5 246.3,279.8" fill="#000" stroke-width="0.6"/>
<polygon points="301.5,254.5 301.2,255 300.7,255.2 300.2,255 300,254.5 300.2,254 300.7,253.7 301.2,254" fill="#000" stroke-width="0.6"/>
<polygon points="300.1,279.2 299.9,279.6 299.5,279.8 299,279.6 298.9,279.2 299,278.7 299.5,278.5 299.9,278.7" fill="#000" stroke-width="0.6"/>
<polygon points="296.8,283.9 296.6,284.3 296.1,284.5 295.7,284.3 295.5,283.9 295.7,283.4 296.1,283.2 296.6,283.4" fill="#000" stroke-width="0.6"/>
<polygon points="332.9,277.7 332.8,278.1 332.3,278.3 331.9,278.1 331.7,277.7 331.9,277.2 332.3,277 332.8,277.2" fill="#000" stroke-width="0.6"/>
<polygon points="340.4,271.8 340,272.7 339.1,273.1 338.3,272.7 337.9,271.8 338.3,271 339.1,270.6 340,271" fill="#000" stroke-width="0.6"/>
<polygon points="339.8,255.4 339.6,255.8 339.1,256 338.7,255.8 338.5,255.4 338.7,254.9 339.1,254.7 339.6,254.9" fill="#000" stroke-width="0.6"/>
<polygon points="356.6,253.7 356.4,254.3 355.9,254.5 355.3,254.3 355.1,253.7 355.3,253.2 355.9,253 356.4,253.2" fill="#000" stroke-width="0.6"/>
<polygon points="353.1,259.4 352.8,260.1 352.1,260.4 351.4,260.1 351.2,259.4 351.4,258.7 352.1,258.5 352.8,258.7" fill="#000" stroke-width="0.6"/>
<polygon points="342.2,250.4 342,250.8 341.6,251 341.2,250.8 341,250.4 341.2,250 341.6,249.8 342,250" fill="#000" stroke-width="0.6"/>
<polygon points="341,247.3 340.8,247.7 340.4,247.9 339.9,247.7 339.8,247.3 339.9,246.9 340.4,246.7 340.8,246.9" fill="#000" stroke-width="0.6"/>
<polygon points="235.3,334.5 234.9,335.5 233.9,335.9 232.9,335.5 232.5,334.5 232.9,333.6 233.9,333.2 234.9,333.6" fill="#000" stroke-width="0.6"/>
<polygon points="256.5,347.7 256.1,348.5 255.3,348.8 254.5,348.5 254.2,347.7 254.5,346.9 255.3,346.5 256.1,346.9" fill="#000" stroke-width="0.6"/>
<polygon points="252.8,352.5 252.5,353.2 251.9,353.4 251.2,353.2 250.9,352.5 251.2,351.9 251.9,351.6 252.5,351.9" fill="#000" stroke-width="0.6"/>
<polygon points="288.7,339.8 288.3,341 287.1,341.5 286,341 285.5,339.8 286,338.7 287.1,338.2 288.3,338.7" fill="#000" stroke-width="0.6"/>
<polygon points="294.5,345.4 294,346.5 292.9,347 291.7,346.5 291.3,345.4 291.7,344.2 292.9,343.8 294,344.2" fill="#000" stroke-width="0.6"/>
<polygon points="311.3,324.6 310.9,325.6 309.9,326 309,325.6 308.5,324.6 309,323.7 309.9,323.2 310.9,323.7" fill="#000" stroke-width="0.6"/>
<polygon points="295.2,380.6 295,381.1 294.5,381.3 294,381.1 293.8,380.6 294,380.1 294.5,379.9 295,380.1" fill="#000" stroke-width="0.6"/>
<polygon points="306,360.3 305.8,360.8 305.3,361 304.8,360.8 304.6,360.3 304.8,359.9 305.3,359.7 305.8,359.9" fill="#000" stroke-width="0.6"/>
<polygon points="280.4,401.4 280.2,402 279.5,402.3 278.9,402 278.6,401.4 278.9,400.7 279.5,400.4 280.2,400.7" fill="#000" stroke-width="0.6"/>
<polygon points="288.3,411.3 288.1,411.8 287.6,412 287.1,411.8 286.9,411.3 287.1,410.8 287.6,410.6 288.1,410.8" fill="#000" stroke-width="0.6"/>
<polygon points="235.4,334.9 235,335.8 234.1,336.1 233.2,335.8 232.8,334.9 233.2,334 234.1,333.6 235,334" fill="#000" stroke-width="0.6"/>
<polygon points="256.6,347.6 256.2,348.5 255.3,348.9 254.4,348.5 254.1,347.6 254.4,346.7 255.3,346.3 256.2,346.7" fill="#000" stroke-width="0.6"/>
<polygon points="253,351.8 252.7,352.4 252.1,352.7 251.5,352.4 251.3,351.8 251.5,351.2 252.1,351 252.7,351.2" fill="#000" stroke-width="0.6"/>
<polygon points="199.1,346.5 198.8,347.3 198,347.6 197.3,347.3 196.9,346.5 197.3,345.8 198,345.5 198.8,345.8" fill="#000" stroke-width="0.6"/>
<polygon points="268.8,431 268.6,431.6 268,431.8 267.5,431.6 267.2,431 267.5,430.5 268,430.2 268.6,430.5" fill="#000" stroke-width="0.6"/>
<polygon points="282,421 281.7,421.7 281,422 280.3,421.7 280,421 280.3,420.3 281,420 281.7,420.3" fill="#000" stroke-width="0.6"/>
<polygon points="284.8,416 284.6,416.6 284,416.8 283.5,416.6 283.2,416 283.5,415.4 284,415.2 284.6,415.4" fill="#000" stroke-width="0.6"/>
<polygon points="288.8,411 288.6,411.6 288,411.8 287.5,411.6 287.2,411 287.5,410.4 288,410.2 288.6,410.4" fill="#000" stroke-width="0.6"/></g>
</g>
<path d="M225.4,84.2 A163.9,163.9 0 0 0 369.2,84.2 L553.7,462 A584.4,584.4 0 0 1 40.9,462 Z M227.9,91.2 A169.2,169.2 0 0 0 366.7,91.2 L546.6,459.6 A579.1,579.1 0 0 1 48,459.6 Z" fill="#fff" fill-rule="evenodd" stroke="none"/>
<polygon points="40.9,462 47.1,465 53.3,467.9 59.6,470.8 65.9,473.5 72.3,476.2 78.6,478.9 85.1,481.4 87,476.5 80.6,473.9 74.3,471.3 68,468.7 61.8,465.9 55.5,463.1 49.3,460.2 43.2,457.3" fill="#000"/>
<polygon points="237.8,89.6 239.6,90.3 241.4,90.9 243.2,91.6 245.1,92.2 246.9,92.8 248.7,93.4 250.6,94 249.1,99.1 247.2,98.5 245.3,97.9 243.4,97.2 241.5,96.6 239.6,95.9 237.7,95.2 235.9,94.5" fill="#000"/>
<polygon points="130.7,497 137.3,499 144,500.8 150.6,502.6 157.3,504.3 164,505.9 170.7,507.4 177.5,508.9 178.6,503.7 171.9,502.3 165.2,500.7 158.6,499.1 152,497.5 145.4,495.7 138.8,493.9 132.2,492" fill="#000"/>
<polygon points="263.7,97.3 265.6,97.7 267.5,98 269.4,98.4 271.3,98.7 273.2,99 275.1,99.3 277,99.5 276.4,104.8 274.4,104.5 272.4,104.2 270.5,103.9 268.5,103.6 266.5,103.3 264.6,102.9 262.6,102.5" fill="#000"/>
<polygon points="225.1,516.8 231.9,517.6 238.8,518.4 245.6,519 252.5,519.6 259.4,520.1 266.3,520.5 273.2,520.8 273.4,515.5 266.6,515.2 259.7,514.8 252.9,514.3 246.1,513.7 239.3,513.1 232.5,512.4 225.7,511.6" fill="#000"/>
<polygon points="290.5,100.6 292.5,100.7 294.4,100.7 296.3,100.8 298.3,100.8 300.2,100.7 302.1,100.7 304.1,100.6 304.3,105.9 302.3,106 300.3,106 298.3,106.1 296.3,106.1 294.3,106 292.3,106 290.3,105.9" fill="#000"/>
<polygon points="321.4,520.8 328.3,520.5 335.2,520.1 342.1,519.6 349,519 355.8,518.4 362.7,517.6 369.5,516.8 368.9,511.6 362.1,512.4 355.3,513.1 348.5,513.7 341.7,514.3 334.9,514.8 328,515.2 321.2,515.5" fill="#000"/>
<polygon points="317.6,99.5 319.5,99.3 321.4,99 323.3,98.7 325.2,98.4 327.1,98 329,97.7 330.9,97.3 332,102.5 330,102.9 328.1,103.3 326.1,103.6 324.1,103.9 322.2,104.2 320.2,104.5 318.2,104.8" fill="#000"/>
<polygon points="417.1,508.9 423.9,507.4 430.6,505.9 437.3,504.3 444,502.6 450.6,500.8 457.3,499 463.9,497 462.4,492 455.8,493.9 449.2,495.7 442.6,497.5 436,499.1 429.4,500.7 422.7,502.3 416,503.7" fill="#000"/>
<polygon points="344,94 345.9,93.4 347.7,92.8 349.5,92.2 351.4,91.6 353.2,90.9 355,90.3 356.8,89.6 358.7,94.5 356.9,95.2 355,95.9 353.1,96.6 351.2,97.2 349.3,97.9 347.4,98.5 345.5,99.1" fill="#000"/>
<polygon points="509.5,481.4 517,478.4 524.5,475.3 531.8,472.2 529.7,467.3 522.4,470.5 515,473.5 507.6,476.5" fill="#000"/>
<polygon points="363.1,87 365.1,86.1 367.2,85.1 369.2,84.2 371.5,88.9 369.4,89.9 367.3,90.9 365.2,91.9" fill="#000"/>
<polygon points="369.2,84.2 377.7,101.6 373,103.9 364.4,86.5" fill="#000"/>
<polygon points="216.9,101.6 208.4,118.9 213.2,121.3 221.6,103.9" fill="#000"/>
<polygon points="386.2,118.9 407.3,162.1 402.5,164.4 381.4,121.3" fill="#000"/>
<polygon points="187.3,162.1 166.4,204.9 171.2,207.2 192.1,164.4" fill="#000"/>
<polygon points="428.2,204.9 449,247.6 444.3,249.9 423.4,207.2" fill="#000"/>
<polygon points="145.6,247.6 124.7,290.3 129.5,292.6 150.3,249.9" fill="#000"/>
<polygon points="469.9,290.3 490.7,333 486,335.3 465.1,292.6" fill="#000"/>
<polygon points="103.9,333 83,375.8 87.7,378.1 108.6,335.3" fill="#000"/>
<polygon points="511.6,375.8 532.6,418.8 527.9,421.1 506.9,378.1" fill="#000"/>
<polygon points="62,418.8 40.9,462 45.6,464.4 66.7,421.1" fill="#000"/>
<path d="M225.4,84.2 A163.9,163.9 0 0 0 369.2,84.2 L553.7,462 A584.4,584.4 0 0 1 40.9,462 Z" fill="none" stroke="#000" stroke-width="1"/>
<path d="M227.9,91.2 A169.2,169.2 0 0 0 366.7,91.2 L546.6,459.6 A579.1,579.1 0 0 1 48,459.6 Z" fill="none" stroke="#000" stroke-width="0.9"/>
<g fill="#000"><text transform="translate(37.3,460.3) rotate(26)" text-anchor="end" font-size="17.3" dy="6.5">60°N</text>
<text transform="translate(79.4,374) rotate(26)" text-anchor="end" font-size="17.3" dy="6.5">65°N</text>
<text transform="translate(121.1,288.5) rotate(26)" text-anchor="end" font-size="17.3" dy="6.5">70°N</text>
<text transform="translate(162.8,203.2) rotate(26)" text-anchor="end" font-size="17.3" dy="6.5">75°N</text>
<text transform="translate(204.8,117.2) rotate(26)" text-anchor="end" font-size="17.3" dy="6.5">80°N</text>
<text transform="translate(39.1,465.6) rotate(26)" text-anchor="middle" font-size="17.3" dx="2" dy="14">30°W</text>
<text transform="translate(129.6,500.9) rotate(16.6)" text-anchor="middle" font-size="17.3" dx="2" dy="14">20°W</text>
<text transform="translate(224.6,520.8) rotate(7.1)" text-anchor="middle" font-size="17.3" dx="2" dy="14">10°W</text>
<text transform="translate(321.6,524.8) rotate(-2.4)" text-anchor="middle" font-size="17.3" dx="2" dy="14">0°</text>
<text transform="translate(417.9,512.8) rotate(-11.8)" text-anchor="middle" font-size="17.3" dx="2" dy="14">10°E</text>
<text transform="translate(511,485.1) rotate(-21.3)" text-anchor="middle" font-size="17.3" dx="2" dy="14">20°E</text></g>
<text x="212.1 223.3 234.6 245.8 257.1 268.3 279.5 290.8 302 313.3 324.5 335.7 347 358.2 369.5 380.7 391.9" y="76.6" text-anchor="middle" style="font-family:'Liberation Serif','Noto Serif CJK SC',serif" font-size="20.6" fill="#000">1980-2022 T trend</text>
<defs><linearGradient id="cbg" x1="0" y1="1" x2="0" y2="0">
<stop offset="0.0000" stop-color="#0000ff"/>
<stop offset="0.0420" stop-color="#0000ff"/>
<stop offset="0.0600" stop-color="#4040fa"/>
<stop offset="0.0760" stop-color="#7070f5"/>
<stop offset="0.0920" stop-color="#a0a0f0"/>
<stop offset="0.1080" stop-color="#c8c8f0"/>
<stop offset="0.1090" stop-color="#e6e6e6"/>
<stop offset="0.2400" stop-color="#e6e6e6"/>
<stop offset="0.4500" stop-color="#ffff00"/>
<stop offset="0.6000" stop-color="#ff7800"/>
<stop offset="0.7000" stop-color="#ff0000"/>
<stop offset="0.8000" stop-color="#ff0080"/>
<stop offset="1.0000" stop-color="#ff00ff"/>
</linearGradient></defs>
<rect x="534.1" y="139" width="18.1" height="239" fill="url(#cbg)" stroke="#262626" stroke-width="0.8"/>
<line x1="549.7" y1="378" x2="552.2" y2="378" stroke="#262626" stroke-width="0.8"/>
<text x="558.8" y="383.2" font-size="14.6" letter-spacing="0.3" fill="#262626">-0.01</text>
<line x1="549.7" y1="330.2" x2="552.2" y2="330.2" stroke="#262626" stroke-width="0.8"/>
<text x="558.8" y="335.4" font-size="14.6" letter-spacing="0.3" fill="#262626">0</text>
<line x1="549.7" y1="282.4" x2="552.2" y2="282.4" stroke="#262626" stroke-width="0.8"/>
<text x="558.8" y="287.6" font-size="14.6" letter-spacing="0.3" fill="#262626">0.01</text>
<line x1="549.7" y1="234.6" x2="552.2" y2="234.6" stroke="#262626" stroke-width="0.8"/>
<text x="558.8" y="239.8" font-size="14.6" letter-spacing="0.3" fill="#262626">0.02</text>
<line x1="549.7" y1="186.8" x2="552.2" y2="186.8" stroke="#262626" stroke-width="0.8"/>
<text x="558.8" y="192" font-size="14.6" letter-spacing="0.3" fill="#262626">0.03</text>
<line x1="549.7" y1="139" x2="552.2" y2="139" stroke="#262626" stroke-width="0.8"/>
<text x="558.8" y="144.2" font-size="14.6" letter-spacing="0.3" fill="#262626">0.04</text>
<text x="532.6" y="130" style="font-family:'Liberation Serif',serif" font-weight="bold" font-size="19.5" fill="#000">K/a</text>
<g stroke="#dedede" stroke-width="0.9">
<line x1="796.7" y1="83.3" x2="796.7" y2="505.8"/>
<line x1="856.9" y1="83.3" x2="856.9" y2="505.8"/>
<line x1="917" y1="83.3" x2="917" y2="505.8"/>
<line x1="977.1" y1="83.3" x2="977.1" y2="505.8"/>
<line x1="1037.3" y1="83.3" x2="1037.3" y2="505.8"/>
<line x1="1097.5" y1="83.3" x2="1097.5" y2="505.8"/>
<line x1="1157.6" y1="83.3" x2="1157.6" y2="505.8"/>
<line x1="1217.8" y1="83.3" x2="1217.8" y2="505.8"/>
<line x1="1277.9" y1="83.3" x2="1277.9" y2="505.8"/>
<line x1="736" y1="133.6" x2="1289.8" y2="133.6"/>
<line x1="736" y1="183.9" x2="1289.8" y2="183.9"/>
<line x1="736" y1="234.2" x2="1289.8" y2="234.2"/>
<line x1="736" y1="284.5" x2="1289.8" y2="284.5"/>
<line x1="736" y1="334.8" x2="1289.8" y2="334.8"/>
<line x1="736" y1="385" x2="1289.8" y2="385"/>
<line x1="736" y1="435.3" x2="1289.8" y2="435.3"/>
<line x1="736" y1="485.6" x2="1289.8" y2="485.6"/>
</g>
<line x1="1025.9" y1="83.3" x2="1025.9" y2="505.8" stroke="#ff00ff" stroke-width="1.4"/>
<polyline points="1204.4,85.8 1190.3,90.9 1200.9,96 1206,101 1202.2,106.2 1195.5,111.3 1171.7,116.5 1171.7,121.8 1157.6,127.2 1158.6,132.7 1165.3,138.5 1157.8,144.6 1147.7,151.2 1152.7,158.4 1151.1,166.6 1149.4,176.2 1142.4,187.6 1137,201.7 1117.4,219.3 1082.5,241.9 1059.4,270.9 1038.4,308 944.4,355.1 890.1,413.9 858.8,485.4 879.7,505.7" fill="none" stroke="#ff0000" stroke-width="3.1" stroke-linejoin="round"/>
<circle cx="1204.4" cy="85.8" r="3.2" fill="none" stroke="#ff0000" stroke-width="1.5"/>
<circle cx="1190.3" cy="90.9" r="3.2" fill="none" stroke="#ff0000" stroke-width="1.5"/>
<circle cx="1200.9" cy="96" r="3.2" fill="none" stroke="#ff0000" stroke-width="1.5"/>
<circle cx="1206" cy="101" r="3.2" fill="none" stroke="#ff0000" stroke-width="1.5"/>
<circle cx="1202.2" cy="106.2" r="3.2" fill="none" stroke="#ff0000" stroke-width="1.5"/>
<circle cx="1195.5" cy="111.3" r="3.2" fill="none" stroke="#ff0000" stroke-width="1.5"/>
<circle cx="1171.7" cy="116.5" r="3.2" fill="none" stroke="#ff0000" stroke-width="1.5"/>
<circle cx="1171.7" cy="121.8" r="3.2" fill="none" stroke="#ff0000" stroke-width="1.5"/>
<circle cx="1157.6" cy="127.2" r="3.2" fill="none" stroke="#ff0000" stroke-width="1.5"/>
<circle cx="1158.6" cy="132.7" r="3.2" fill="none" stroke="#ff0000" stroke-width="1.5"/>
<circle cx="1165.3" cy="138.5" r="3.2" fill="none" stroke="#ff0000" stroke-width="1.5"/>
<circle cx="1157.8" cy="144.6" r="3.2" fill="none" stroke="#ff0000" stroke-width="1.5"/>
<circle cx="1147.7" cy="151.2" r="3.2" fill="none" stroke="#ff0000" stroke-width="1.5"/>
<circle cx="1152.7" cy="158.4" r="3.2" fill="none" stroke="#ff0000" stroke-width="1.5"/>
<circle cx="1151.1" cy="166.6" r="3.2" fill="none" stroke="#ff0000" stroke-width="1.5"/>
<circle cx="1149.4" cy="176.2" r="3.2" fill="none" stroke="#ff0000" stroke-width="1.5"/>
<circle cx="1142.4" cy="187.6" r="3.2" fill="none" stroke="#ff0000" stroke-width="1.5"/>
<circle cx="1137" cy="201.7" r="3.2" fill="none" stroke="#ff0000" stroke-width="1.5"/>
<circle cx="1117.4" cy="219.3" r="3.2" fill="none" stroke="#ff0000" stroke-width="1.5"/>
<circle cx="1082.5" cy="241.9" r="3.2" fill="none" stroke="#ff0000" stroke-width="1.5"/>
<circle cx="1059.4" cy="270.9" r="3.2" fill="none" stroke="#ff0000" stroke-width="1.5"/>
<circle cx="1038.4" cy="308" r="3.2" fill="none" stroke="#ff0000" stroke-width="1.5"/>
<circle cx="944.4" cy="355.1" r="3.2" fill="none" stroke="#ff0000" stroke-width="1.5"/>
<polyline points="854.1,85.8 857.8,90.9 859.6,96 860.8,101 862,106.2 860.1,111.3 863.8,116.5 843,121.8 853.2,127.2 863,132.7 862,138.5 860.1,144.6 859.1,151.2 860.8,158.4 862,166.6 862.9,176.2 863.6,187.6 864.5,201.7 865.3,219.3 866,241.9 866.2,270.9 864.8,308 861.8,355.1 856.6,413.9 856.2,485.4 856,505.7" fill="none" stroke="#0000ff" stroke-width="2.6" stroke-linejoin="round" stroke-dasharray="3 3.3"/>
<circle cx="865.3" cy="219.3" r="3.1" fill="none" stroke="#0000ff" stroke-width="1.4"/>
<circle cx="866" cy="241.9" r="3.1" fill="none" stroke="#0000ff" stroke-width="1.4"/>
<circle cx="866.2" cy="270.9" r="3.1" fill="none" stroke="#0000ff" stroke-width="1.4"/>
<circle cx="864.8" cy="308" r="3.1" fill="none" stroke="#0000ff" stroke-width="1.4"/>
<circle cx="861.8" cy="355.1" r="3.1" fill="none" stroke="#0000ff" stroke-width="1.4"/>
<polyline points="809.5,85.8 815.2,90.9 815.2,96 814.7,101 819.2,106.2 818,111.3 825.7,116.5 809.3,121.8 818.5,127.2 826.7,132.7 826.2,138.5 824.6,144.6 825.1,151.2 827.1,158.4 828.3,166.6 829.5,176.2 831.3,187.6 833.3,201.7 836.5,219.3 841.2,241.9 844,270.9 845.4,308 851.9,355.1 854.1,413.9 854.8,485.4 854.1,505.7" fill="none" stroke="#000000" stroke-width="2.6" stroke-linejoin="round"/>
<circle cx="809.5" cy="85.8" r="3.2" fill="none" stroke="#000000" stroke-width="1.3"/>
<circle cx="815.2" cy="90.9" r="3.2" fill="none" stroke="#000000" stroke-width="1.3"/>
<circle cx="815.2" cy="96" r="3.2" fill="none" stroke="#000000" stroke-width="1.3"/>
<circle cx="814.7" cy="101" r="3.2" fill="none" stroke="#000000" stroke-width="1.3"/>
<circle cx="819.2" cy="106.2" r="3.2" fill="none" stroke="#000000" stroke-width="1.3"/>
<circle cx="818" cy="111.3" r="3.2" fill="none" stroke="#000000" stroke-width="1.3"/>
<circle cx="825.7" cy="116.5" r="3.2" fill="none" stroke="#000000" stroke-width="1.3"/>
<circle cx="809.3" cy="121.8" r="3.2" fill="none" stroke="#000000" stroke-width="1.3"/>
<circle cx="818.5" cy="127.2" r="3.2" fill="none" stroke="#000000" stroke-width="1.3"/>
<circle cx="826.7" cy="132.7" r="3.2" fill="none" stroke="#000000" stroke-width="1.3"/>
<circle cx="826.2" cy="138.5" r="3.2" fill="none" stroke="#000000" stroke-width="1.3"/>
<circle cx="824.6" cy="144.6" r="3.2" fill="none" stroke="#000000" stroke-width="1.3"/>
<circle cx="825.1" cy="151.2" r="3.2" fill="none" stroke="#000000" stroke-width="1.3"/>
<circle cx="827.1" cy="158.4" r="3.2" fill="none" stroke="#000000" stroke-width="1.3"/>
<circle cx="828.3" cy="166.6" r="3.2" fill="none" stroke="#000000" stroke-width="1.3"/>
<circle cx="829.5" cy="176.2" r="3.2" fill="none" stroke="#000000" stroke-width="1.3"/>
<circle cx="831.3" cy="187.6" r="3.2" fill="none" stroke="#000000" stroke-width="1.3"/>
<circle cx="833.3" cy="201.7" r="3.2" fill="none" stroke="#000000" stroke-width="1.3"/>
<circle cx="836.5" cy="219.3" r="3.2" fill="none" stroke="#000000" stroke-width="1.3"/>
<circle cx="841.2" cy="241.9" r="3.2" fill="none" stroke="#000000" stroke-width="1.3"/>
<circle cx="844" cy="270.9" r="3.2" fill="none" stroke="#000000" stroke-width="1.3"/>
<circle cx="845.4" cy="308" r="3.2" fill="none" stroke="#000000" stroke-width="1.3"/>
<circle cx="851.9" cy="355.1" r="3.2" fill="none" stroke="#000000" stroke-width="1.3"/>
<circle cx="854.1" cy="413.9" r="3.2" fill="none" stroke="#000000" stroke-width="1.3"/>
<rect x="736" y="83.3" width="553.8" height="422.5" fill="none" stroke="#262626" stroke-width="1"/>
<g stroke="#262626" stroke-width="1">
<line x1="736.6" y1="505.8" x2="736.6" y2="500.4"/>
<line x1="736.6" y1="83.3" x2="736.6" y2="88.7"/>
<line x1="796.7" y1="505.8" x2="796.7" y2="500.4"/>
<line x1="796.7" y1="83.3" x2="796.7" y2="88.7"/>
<line x1="856.9" y1="505.8" x2="856.9" y2="500.4"/>
<line x1="856.9" y1="83.3" x2="856.9" y2="88.7"/>
<line x1="917" y1="505.8" x2="917" y2="500.4"/>
<line x1="917" y1="83.3" x2="917" y2="88.7"/>
<line x1="977.1" y1="505.8" x2="977.1" y2="500.4"/>
<line x1="977.1" y1="83.3" x2="977.1" y2="88.7"/>
<line x1="1037.3" y1="505.8" x2="1037.3" y2="500.4"/>
<line x1="1037.3" y1="83.3" x2="1037.3" y2="88.7"/>
<line x1="1097.5" y1="505.8" x2="1097.5" y2="500.4"/>
<line x1="1097.5" y1="83.3" x2="1097.5" y2="88.7"/>
<line x1="1157.6" y1="505.8" x2="1157.6" y2="500.4"/>
<line x1="1157.6" y1="83.3" x2="1157.6" y2="88.7"/>
<line x1="1217.8" y1="505.8" x2="1217.8" y2="500.4"/>
<line x1="1217.8" y1="83.3" x2="1217.8" y2="88.7"/>
<line x1="1277.9" y1="505.8" x2="1277.9" y2="500.4"/>
<line x1="1277.9" y1="83.3" x2="1277.9" y2="88.7"/>
<line x1="736" y1="83.3" x2="741.4" y2="83.3"/>
<line x1="1289.8" y1="83.3" x2="1284.4" y2="83.3"/>
<line x1="736" y1="133.6" x2="741.4" y2="133.6"/>
<line x1="1289.8" y1="133.6" x2="1284.4" y2="133.6"/>
<line x1="736" y1="183.9" x2="741.4" y2="183.9"/>
<line x1="1289.8" y1="183.9" x2="1284.4" y2="183.9"/>
<line x1="736" y1="234.2" x2="741.4" y2="234.2"/>
<line x1="1289.8" y1="234.2" x2="1284.4" y2="234.2"/>
<line x1="736" y1="284.5" x2="741.4" y2="284.5"/>
<line x1="1289.8" y1="284.5" x2="1284.4" y2="284.5"/>
<line x1="736" y1="334.8" x2="741.4" y2="334.8"/>
<line x1="1289.8" y1="334.8" x2="1284.4" y2="334.8"/>
<line x1="736" y1="385" x2="741.4" y2="385"/>
<line x1="1289.8" y1="385" x2="1284.4" y2="385"/>
<line x1="736" y1="435.3" x2="741.4" y2="435.3"/>
<line x1="1289.8" y1="435.3" x2="1284.4" y2="435.3"/>
<line x1="736" y1="485.6" x2="741.4" y2="485.6"/>
<line x1="1289.8" y1="485.6" x2="1284.4" y2="485.6"/>
</g>
<g font-size="15.6" letter-spacing="0.9" fill="#262626">
<text x="736.8" y="530" text-anchor="middle">-0.01</text>
<text x="796.9" y="530" text-anchor="middle">-0.005</text>
<text x="857.1" y="530" text-anchor="middle">0</text>
<text x="917.2" y="530" text-anchor="middle">0.005</text>
<text x="977.4" y="530" text-anchor="middle">0.01</text>
<text x="1037.5" y="530" text-anchor="middle">0.015</text>
<text x="1097.7" y="530" text-anchor="middle">0.02</text>
<text x="1157.8" y="530" text-anchor="middle">0.025</text>
<text x="1218" y="530" text-anchor="middle">0.03</text>
<text x="1278.1" y="530" text-anchor="middle">0.035</text>
<text x="729.1" y="90" text-anchor="end">0</text>
<text x="729.1" y="140.3" text-anchor="end">-100</text>
<text x="729.1" y="190.6" text-anchor="end">-200</text>
<text x="729.1" y="240.9" text-anchor="end">-300</text>
<text x="729.1" y="291.2" text-anchor="end">-400</text>
<text x="729.1" y="341.4" text-anchor="end">-500</text>
<text x="729.1" y="391.7" text-anchor="end">-600</text>
<text x="729.1" y="442" text-anchor="end">-700</text>
<text x="729.1" y="492.3" text-anchor="end">-800</text>
</g>
<text x="926.4" y="559.2" textLength="173.2" lengthAdjust="spacing" font-weight="bold" font-size="16.4" fill="#262626">(K; ;kg/m<tspan dy="-7" font-size="12.5">3</tspan><tspan dy="7"> per year)</tspan></text>
<text transform="translate(685.3,334.8) rotate(-90)" textLength="80.6" lengthAdjust="spacing" font-weight="bold" font-size="16.4" fill="#262626">Depth(m)</text>
<rect x="1059.4" y="400.3" width="219.6" height="88" fill="#fff" stroke="#262626" stroke-width="0.9"/>
<line x1="1065.1" y1="412.7" x2="1115.7" y2="412.7" stroke="#ff0000" stroke-width="3.3"/>
<text x="1120.2" y="418.3" font-size="14.3" letter-spacing="0.45" fill="#000">T trend</text>
<line x1="1065.1" y1="433.6" x2="1115.7" y2="433.6" stroke="#0000ff" stroke-width="2.6" stroke-dasharray="3 3.3"/>
<text x="1120.2" y="439.2" font-size="14.3" letter-spacing="0.45" fill="#000">S trend</text>
<line x1="1065.1" y1="454.8" x2="1115.7" y2="454.8" stroke="#000" stroke-width="2.6"/>
<text x="1120.2" y="460.4" font-size="14.3" letter-spacing="0.45" fill="#000">sigma trend</text>
<line x1="1065.1" y1="476.1" x2="1115.7" y2="476.1" stroke="#ff00ff" stroke-width="1.5"/>
<text x="1120.2" y="481.7" font-size="14.3" letter-spacing="0.45" fill="#000">T mean trend(5-840m)</text>
<text x="68.9" y="24.2" font-weight="bold" font-size="29.2" fill="#000">A</text>
<text x="649.4" y="24.2" font-weight="bold" font-size="29.2" fill="#000">B</text>
</svg></body></html>
